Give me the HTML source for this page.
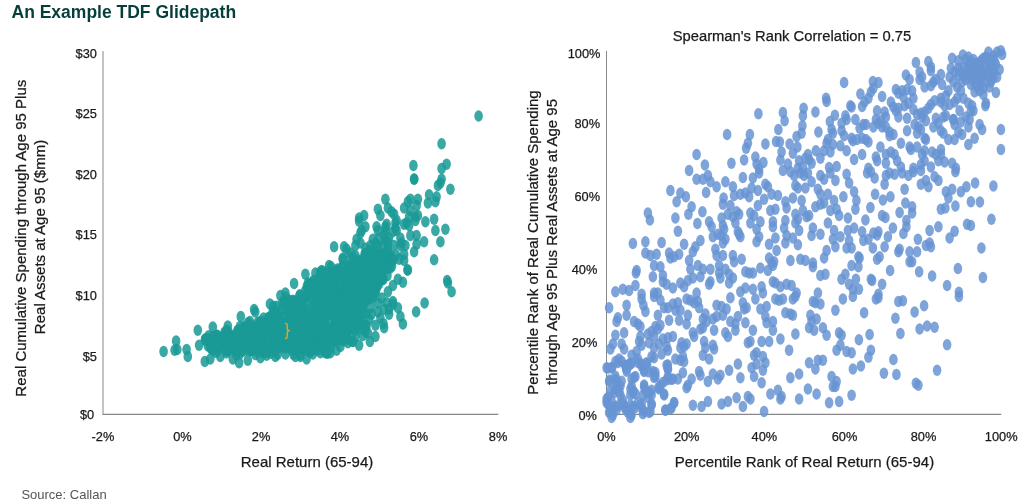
<!DOCTYPE html>
<html><head><meta charset="utf-8"><style>
html,body{margin:0;padding:0;background:#fff;}
body{width:1024px;height:504px;overflow:hidden;}
svg{display:block;font-family:"Liberation Sans",sans-serif;will-change:transform;}
.t{font-size:12.8px;fill:#1a1a1a;stroke:#1a1a1a;stroke-width:0.25px;}
.a{font-size:15px;fill:#1a1a1a;stroke:#1a1a1a;stroke-width:0.25px;}
</style></head><body>
<svg width="1024" height="504" viewBox="0 0 1024 504">
<rect width="1024" height="504" fill="#fff"/>
<text x="11.5" y="17.5" style="font-size:17.5px;font-weight:bold;fill:#053f3b">An Example TDF Glidepath</text>
<line x1="103" y1="51" x2="103" y2="414.5" stroke="#888" stroke-width="1"/>
<line x1="102.5" y1="414.3" x2="498.3" y2="414.3" stroke="#888" stroke-width="1.2"/>
<line x1="606.5" y1="51" x2="606.5" y2="414.5" stroke="#888" stroke-width="1"/>
<line x1="606" y1="414.3" x2="1001.2" y2="414.3" stroke="#888" stroke-width="1.2"/>
<text class="t" x="96.9" y="58.4" text-anchor="end">$30</text>
<text class="t" x="96.9" y="118.0" text-anchor="end">$25</text>
<text class="t" x="96.9" y="178.6" text-anchor="end">$20</text>
<text class="t" x="96.9" y="239.4" text-anchor="end">$15</text>
<text class="t" x="96.9" y="300.2" text-anchor="end">$10</text>
<text class="t" x="96.9" y="360.9" text-anchor="end">$5</text>
<text class="t" x="94.2" y="418.9" text-anchor="end">$0</text>
<text class="t" x="103" y="441.0" text-anchor="middle">-2%</text>
<text class="t" x="182.4" y="441.0" text-anchor="middle">0%</text>
<text class="t" x="261.1" y="441.0" text-anchor="middle">2%</text>
<text class="t" x="340" y="441.0" text-anchor="middle">4%</text>
<text class="t" x="419" y="441.0" text-anchor="middle">6%</text>
<text class="t" x="498.1" y="441.0" text-anchor="middle">8%</text>
<text class="a" x="307" y="466.7" text-anchor="middle">Real Return (65-94)</text>
<text class="a" transform="translate(26,238.2) rotate(-90)" text-anchor="middle">Real Cumulative Spending through Age 95 Plus</text>
<text class="a" transform="translate(44.5,237) rotate(-90)" text-anchor="middle">Real Assets at Age 95 ($mm)</text>
<text class="t" x="600.4" y="58.4" text-anchor="end">100%</text>
<text class="t" x="600.1" y="128.4" text-anchor="end">80%</text>
<text class="t" x="600.1" y="200.9" text-anchor="end">60%</text>
<text class="t" x="597.3" y="273.8" text-anchor="end">40%</text>
<text class="t" x="597.3" y="346.7" text-anchor="end">20%</text>
<text class="t" x="596.9" y="419.5" text-anchor="end">0%</text>
<text class="t" x="606.5" y="441.0" text-anchor="middle">0%</text>
<text class="t" x="686.7" y="441.0" text-anchor="middle">20%</text>
<text class="t" x="764.4" y="441.0" text-anchor="middle">40%</text>
<text class="t" x="844.5" y="441.0" text-anchor="middle">60%</text>
<text class="t" x="923.5" y="441.0" text-anchor="middle">80%</text>
<text class="t" x="1001.2" y="441.0" text-anchor="middle">100%</text>
<text class="a" x="804.5" y="466.7" text-anchor="middle">Percentile Rank of Real Return (65-94)</text>
<text class="a" x="792" y="41.3" text-anchor="middle" style="font-size:14.75px">Spearman's Rank Correlation = 0.75</text>
<text class="a" transform="translate(538.1,242.5) rotate(-90)" text-anchor="middle">Percentile Rank of Real Cumulative Spending</text>
<text class="a" transform="translate(557.1,242) rotate(-90)" text-anchor="middle">through Age 95 Plus Real Assets at Age 95</text>
<text x="21.4" y="498.9" style="font-size:13px;fill:#555">Source: Callan</text>
<g fill="#1a9a96" fill-opacity="0.86">
<ellipse cx="304.2" cy="322.6" rx="4.3" ry="5.7"/><ellipse cx="287.0" cy="328.7" rx="4.3" ry="5.7"/><ellipse cx="318.1" cy="282.3" rx="4.3" ry="5.7"/><ellipse cx="348.2" cy="296.0" rx="4.3" ry="5.7"/><ellipse cx="257.9" cy="322.2" rx="4.3" ry="5.7"/><ellipse cx="330.4" cy="274.0" rx="4.3" ry="5.7"/><ellipse cx="339.9" cy="278.9" rx="4.3" ry="5.7"/><ellipse cx="378.8" cy="273.3" rx="4.3" ry="5.7"/><ellipse cx="317.8" cy="316.0" rx="4.3" ry="5.7"/><ellipse cx="295.1" cy="309.4" rx="4.3" ry="5.7"/><ellipse cx="355.2" cy="290.1" rx="4.3" ry="5.7"/><ellipse cx="332.8" cy="329.7" rx="4.3" ry="5.7"/><ellipse cx="242.6" cy="337.5" rx="4.3" ry="5.7"/><ellipse cx="326.7" cy="272.4" rx="4.3" ry="5.7"/><ellipse cx="260.7" cy="341.2" rx="4.3" ry="5.7"/><ellipse cx="349.0" cy="269.6" rx="4.3" ry="5.7"/><ellipse cx="345.1" cy="277.6" rx="4.3" ry="5.7"/><ellipse cx="366.5" cy="279.0" rx="4.3" ry="5.7"/><ellipse cx="332.2" cy="291.6" rx="4.3" ry="5.7"/><ellipse cx="337.2" cy="325.2" rx="4.3" ry="5.7"/><ellipse cx="364.5" cy="266.6" rx="4.3" ry="5.7"/><ellipse cx="352.3" cy="315.7" rx="4.3" ry="5.7"/><ellipse cx="370.5" cy="252.2" rx="4.3" ry="5.7"/><ellipse cx="296.8" cy="301.7" rx="4.3" ry="5.7"/><ellipse cx="340.3" cy="329.2" rx="4.3" ry="5.7"/><ellipse cx="313.2" cy="323.7" rx="4.3" ry="5.7"/><ellipse cx="323.3" cy="278.0" rx="4.3" ry="5.7"/><ellipse cx="350.0" cy="283.6" rx="4.3" ry="5.7"/><ellipse cx="351.0" cy="315.5" rx="4.3" ry="5.7"/><ellipse cx="314.2" cy="289.2" rx="4.3" ry="5.7"/><ellipse cx="242.3" cy="331.8" rx="4.3" ry="5.7"/><ellipse cx="325.5" cy="296.9" rx="4.3" ry="5.7"/><ellipse cx="322.1" cy="324.2" rx="4.3" ry="5.7"/><ellipse cx="358.5" cy="321.5" rx="4.3" ry="5.7"/><ellipse cx="239.9" cy="353.9" rx="4.3" ry="5.7"/><ellipse cx="243.9" cy="326.7" rx="4.3" ry="5.7"/><ellipse cx="226.6" cy="345.2" rx="4.3" ry="5.7"/><ellipse cx="342.3" cy="292.1" rx="4.3" ry="5.7"/><ellipse cx="341.8" cy="332.5" rx="4.3" ry="5.7"/><ellipse cx="274.6" cy="313.3" rx="4.3" ry="5.7"/><ellipse cx="318.7" cy="278.4" rx="4.3" ry="5.7"/><ellipse cx="334.6" cy="317.0" rx="4.3" ry="5.7"/><ellipse cx="334.5" cy="271.8" rx="4.3" ry="5.7"/><ellipse cx="305.4" cy="350.3" rx="4.3" ry="5.7"/><ellipse cx="311.7" cy="288.1" rx="4.3" ry="5.7"/><ellipse cx="299.9" cy="294.7" rx="4.3" ry="5.7"/><ellipse cx="297.0" cy="323.6" rx="4.3" ry="5.7"/><ellipse cx="308.1" cy="282.9" rx="4.3" ry="5.7"/><ellipse cx="306.4" cy="332.4" rx="4.3" ry="5.7"/><ellipse cx="348.9" cy="300.2" rx="4.3" ry="5.7"/><ellipse cx="279.6" cy="326.1" rx="4.3" ry="5.7"/><ellipse cx="270.8" cy="330.2" rx="4.3" ry="5.7"/><ellipse cx="297.0" cy="327.2" rx="4.3" ry="5.7"/><ellipse cx="310.2" cy="297.4" rx="4.3" ry="5.7"/><ellipse cx="313.4" cy="342.0" rx="4.3" ry="5.7"/><ellipse cx="349.4" cy="297.1" rx="4.3" ry="5.7"/><ellipse cx="363.2" cy="299.2" rx="4.3" ry="5.7"/><ellipse cx="364.6" cy="283.7" rx="4.3" ry="5.7"/><ellipse cx="251.8" cy="350.6" rx="4.3" ry="5.7"/><ellipse cx="253.4" cy="338.8" rx="4.3" ry="5.7"/><ellipse cx="315.1" cy="303.4" rx="4.3" ry="5.7"/><ellipse cx="324.5" cy="350.6" rx="4.3" ry="5.7"/><ellipse cx="289.4" cy="309.5" rx="4.3" ry="5.7"/><ellipse cx="303.4" cy="344.6" rx="4.3" ry="5.7"/><ellipse cx="333.8" cy="309.1" rx="4.3" ry="5.7"/><ellipse cx="240.6" cy="348.2" rx="4.3" ry="5.7"/><ellipse cx="249.9" cy="350.7" rx="4.3" ry="5.7"/><ellipse cx="226.4" cy="352.9" rx="4.3" ry="5.7"/><ellipse cx="284.0" cy="343.3" rx="4.3" ry="5.7"/><ellipse cx="334.3" cy="327.2" rx="4.3" ry="5.7"/><ellipse cx="229.9" cy="336.4" rx="4.3" ry="5.7"/><ellipse cx="308.3" cy="336.4" rx="4.3" ry="5.7"/><ellipse cx="318.4" cy="309.3" rx="4.3" ry="5.7"/><ellipse cx="308.5" cy="325.4" rx="4.3" ry="5.7"/><ellipse cx="284.1" cy="342.7" rx="4.3" ry="5.7"/><ellipse cx="341.4" cy="289.7" rx="4.3" ry="5.7"/><ellipse cx="353.6" cy="264.2" rx="4.3" ry="5.7"/><ellipse cx="357.3" cy="272.7" rx="4.3" ry="5.7"/><ellipse cx="304.1" cy="342.8" rx="4.3" ry="5.7"/><ellipse cx="233.2" cy="336.7" rx="4.3" ry="5.7"/><ellipse cx="313.8" cy="337.7" rx="4.3" ry="5.7"/><ellipse cx="354.4" cy="280.7" rx="4.3" ry="5.7"/><ellipse cx="337.9" cy="270.2" rx="4.3" ry="5.7"/><ellipse cx="333.4" cy="297.7" rx="4.3" ry="5.7"/><ellipse cx="337.4" cy="271.4" rx="4.3" ry="5.7"/><ellipse cx="310.2" cy="325.5" rx="4.3" ry="5.7"/><ellipse cx="313.3" cy="325.4" rx="4.3" ry="5.7"/><ellipse cx="323.7" cy="342.8" rx="4.3" ry="5.7"/><ellipse cx="357.7" cy="264.8" rx="4.3" ry="5.7"/><ellipse cx="329.4" cy="302.3" rx="4.3" ry="5.7"/><ellipse cx="279.1" cy="333.0" rx="4.3" ry="5.7"/><ellipse cx="344.4" cy="330.0" rx="4.3" ry="5.7"/><ellipse cx="375.7" cy="264.7" rx="4.3" ry="5.7"/><ellipse cx="379.3" cy="274.9" rx="4.3" ry="5.7"/><ellipse cx="277.4" cy="311.5" rx="4.3" ry="5.7"/><ellipse cx="287.8" cy="332.2" rx="4.3" ry="5.7"/><ellipse cx="288.1" cy="329.5" rx="4.3" ry="5.7"/><ellipse cx="313.3" cy="341.2" rx="4.3" ry="5.7"/><ellipse cx="377.8" cy="281.9" rx="4.3" ry="5.7"/><ellipse cx="324.0" cy="344.7" rx="4.3" ry="5.7"/><ellipse cx="380.8" cy="256.0" rx="4.3" ry="5.7"/><ellipse cx="228.2" cy="346.0" rx="4.3" ry="5.7"/><ellipse cx="325.7" cy="311.5" rx="4.3" ry="5.7"/><ellipse cx="348.2" cy="325.0" rx="4.3" ry="5.7"/><ellipse cx="328.4" cy="343.5" rx="4.3" ry="5.7"/><ellipse cx="334.5" cy="273.1" rx="4.3" ry="5.7"/><ellipse cx="271.6" cy="333.5" rx="4.3" ry="5.7"/><ellipse cx="331.1" cy="308.2" rx="4.3" ry="5.7"/><ellipse cx="340.1" cy="312.1" rx="4.3" ry="5.7"/><ellipse cx="287.8" cy="322.0" rx="4.3" ry="5.7"/><ellipse cx="320.8" cy="336.4" rx="4.3" ry="5.7"/><ellipse cx="364.6" cy="260.4" rx="4.3" ry="5.7"/><ellipse cx="293.7" cy="301.6" rx="4.3" ry="5.7"/><ellipse cx="361.0" cy="297.1" rx="4.3" ry="5.7"/><ellipse cx="322.7" cy="341.5" rx="4.3" ry="5.7"/><ellipse cx="385.7" cy="259.5" rx="4.3" ry="5.7"/><ellipse cx="382.2" cy="276.9" rx="4.3" ry="5.7"/><ellipse cx="333.4" cy="308.9" rx="4.3" ry="5.7"/><ellipse cx="266.4" cy="342.4" rx="4.3" ry="5.7"/><ellipse cx="228.4" cy="331.8" rx="4.3" ry="5.7"/><ellipse cx="304.9" cy="334.3" rx="4.3" ry="5.7"/><ellipse cx="302.8" cy="299.8" rx="4.3" ry="5.7"/><ellipse cx="366.4" cy="297.4" rx="4.3" ry="5.7"/><ellipse cx="350.0" cy="302.5" rx="4.3" ry="5.7"/><ellipse cx="374.0" cy="277.5" rx="4.3" ry="5.7"/><ellipse cx="299.5" cy="308.7" rx="4.3" ry="5.7"/><ellipse cx="356.1" cy="281.6" rx="4.3" ry="5.7"/><ellipse cx="347.4" cy="332.2" rx="4.3" ry="5.7"/><ellipse cx="309.9" cy="352.4" rx="4.3" ry="5.7"/><ellipse cx="247.0" cy="327.7" rx="4.3" ry="5.7"/><ellipse cx="338.8" cy="270.9" rx="4.3" ry="5.7"/><ellipse cx="247.4" cy="343.2" rx="4.3" ry="5.7"/><ellipse cx="280.8" cy="327.9" rx="4.3" ry="5.7"/><ellipse cx="267.6" cy="327.6" rx="4.3" ry="5.7"/><ellipse cx="346.0" cy="272.3" rx="4.3" ry="5.7"/><ellipse cx="290.4" cy="321.8" rx="4.3" ry="5.7"/><ellipse cx="336.2" cy="341.4" rx="4.3" ry="5.7"/><ellipse cx="361.8" cy="321.1" rx="4.3" ry="5.7"/><ellipse cx="281.2" cy="326.7" rx="4.3" ry="5.7"/><ellipse cx="330.9" cy="308.4" rx="4.3" ry="5.7"/><ellipse cx="210.9" cy="341.6" rx="4.3" ry="5.7"/><ellipse cx="250.0" cy="331.7" rx="4.3" ry="5.7"/><ellipse cx="319.2" cy="284.2" rx="4.3" ry="5.7"/><ellipse cx="340.8" cy="334.1" rx="4.3" ry="5.7"/><ellipse cx="321.7" cy="335.8" rx="4.3" ry="5.7"/><ellipse cx="361.1" cy="274.5" rx="4.3" ry="5.7"/><ellipse cx="352.4" cy="341.2" rx="4.3" ry="5.7"/><ellipse cx="300.0" cy="354.8" rx="4.3" ry="5.7"/><ellipse cx="285.9" cy="297.2" rx="4.3" ry="5.7"/><ellipse cx="327.4" cy="334.1" rx="4.3" ry="5.7"/><ellipse cx="352.7" cy="290.9" rx="4.3" ry="5.7"/><ellipse cx="392.0" cy="260.7" rx="4.3" ry="5.7"/><ellipse cx="294.8" cy="321.7" rx="4.3" ry="5.7"/><ellipse cx="255.5" cy="354.6" rx="4.3" ry="5.7"/><ellipse cx="318.3" cy="346.7" rx="4.3" ry="5.7"/><ellipse cx="307.7" cy="295.3" rx="4.3" ry="5.7"/><ellipse cx="381.3" cy="253.7" rx="4.3" ry="5.7"/><ellipse cx="377.2" cy="287.1" rx="4.3" ry="5.7"/><ellipse cx="344.7" cy="293.8" rx="4.3" ry="5.7"/><ellipse cx="225.0" cy="336.6" rx="4.3" ry="5.7"/><ellipse cx="359.2" cy="266.1" rx="4.3" ry="5.7"/><ellipse cx="357.0" cy="281.0" rx="4.3" ry="5.7"/><ellipse cx="358.1" cy="287.9" rx="4.3" ry="5.7"/><ellipse cx="334.4" cy="323.4" rx="4.3" ry="5.7"/><ellipse cx="306.9" cy="286.0" rx="4.3" ry="5.7"/><ellipse cx="396.0" cy="255.1" rx="4.3" ry="5.7"/><ellipse cx="319.9" cy="291.4" rx="4.3" ry="5.7"/><ellipse cx="326.4" cy="302.5" rx="4.3" ry="5.7"/><ellipse cx="343.5" cy="340.8" rx="4.3" ry="5.7"/><ellipse cx="280.5" cy="334.2" rx="4.3" ry="5.7"/><ellipse cx="379.2" cy="283.8" rx="4.3" ry="5.7"/><ellipse cx="232.3" cy="343.0" rx="4.3" ry="5.7"/><ellipse cx="336.3" cy="320.8" rx="4.3" ry="5.7"/><ellipse cx="329.7" cy="328.8" rx="4.3" ry="5.7"/><ellipse cx="356.9" cy="270.5" rx="4.3" ry="5.7"/><ellipse cx="291.1" cy="349.0" rx="4.3" ry="5.7"/><ellipse cx="237.5" cy="330.2" rx="4.3" ry="5.7"/><ellipse cx="372.1" cy="255.7" rx="4.3" ry="5.7"/><ellipse cx="285.0" cy="323.8" rx="4.3" ry="5.7"/><ellipse cx="348.9" cy="301.2" rx="4.3" ry="5.7"/><ellipse cx="341.1" cy="328.5" rx="4.3" ry="5.7"/><ellipse cx="277.7" cy="317.7" rx="4.3" ry="5.7"/><ellipse cx="302.1" cy="326.4" rx="4.3" ry="5.7"/><ellipse cx="280.1" cy="341.2" rx="4.3" ry="5.7"/><ellipse cx="315.4" cy="327.9" rx="4.3" ry="5.7"/><ellipse cx="319.5" cy="343.2" rx="4.3" ry="5.7"/><ellipse cx="316.3" cy="296.2" rx="4.3" ry="5.7"/><ellipse cx="276.9" cy="306.3" rx="4.3" ry="5.7"/><ellipse cx="361.2" cy="288.6" rx="4.3" ry="5.7"/><ellipse cx="336.6" cy="288.0" rx="4.3" ry="5.7"/><ellipse cx="314.2" cy="339.1" rx="4.3" ry="5.7"/><ellipse cx="362.8" cy="270.9" rx="4.3" ry="5.7"/><ellipse cx="323.2" cy="324.4" rx="4.3" ry="5.7"/><ellipse cx="357.6" cy="316.3" rx="4.3" ry="5.7"/><ellipse cx="358.4" cy="281.7" rx="4.3" ry="5.7"/><ellipse cx="227.6" cy="348.9" rx="4.3" ry="5.7"/><ellipse cx="301.2" cy="333.0" rx="4.3" ry="5.7"/><ellipse cx="342.7" cy="259.4" rx="4.3" ry="5.7"/><ellipse cx="318.6" cy="323.7" rx="4.3" ry="5.7"/><ellipse cx="341.9" cy="272.1" rx="4.3" ry="5.7"/><ellipse cx="311.4" cy="283.1" rx="4.3" ry="5.7"/><ellipse cx="340.8" cy="294.3" rx="4.3" ry="5.7"/><ellipse cx="330.4" cy="330.3" rx="4.3" ry="5.7"/><ellipse cx="300.6" cy="328.4" rx="4.3" ry="5.7"/><ellipse cx="253.7" cy="330.8" rx="4.3" ry="5.7"/><ellipse cx="375.6" cy="292.4" rx="4.3" ry="5.7"/><ellipse cx="276.1" cy="314.4" rx="4.3" ry="5.7"/><ellipse cx="359.9" cy="329.1" rx="4.3" ry="5.7"/><ellipse cx="305.9" cy="322.1" rx="4.3" ry="5.7"/><ellipse cx="344.7" cy="314.8" rx="4.3" ry="5.7"/><ellipse cx="321.0" cy="310.7" rx="4.3" ry="5.7"/><ellipse cx="334.5" cy="330.1" rx="4.3" ry="5.7"/><ellipse cx="388.6" cy="255.2" rx="4.3" ry="5.7"/><ellipse cx="278.9" cy="336.7" rx="4.3" ry="5.7"/><ellipse cx="278.9" cy="345.9" rx="4.3" ry="5.7"/><ellipse cx="280.9" cy="347.1" rx="4.3" ry="5.7"/><ellipse cx="341.8" cy="308.7" rx="4.3" ry="5.7"/><ellipse cx="358.1" cy="284.6" rx="4.3" ry="5.7"/><ellipse cx="224.4" cy="339.2" rx="4.3" ry="5.7"/><ellipse cx="375.0" cy="254.7" rx="4.3" ry="5.7"/><ellipse cx="270.9" cy="353.3" rx="4.3" ry="5.7"/><ellipse cx="304.3" cy="334.5" rx="4.3" ry="5.7"/><ellipse cx="230.6" cy="342.1" rx="4.3" ry="5.7"/><ellipse cx="237.2" cy="349.1" rx="4.3" ry="5.7"/><ellipse cx="251.7" cy="327.6" rx="4.3" ry="5.7"/><ellipse cx="361.6" cy="264.0" rx="4.3" ry="5.7"/><ellipse cx="253.5" cy="347.7" rx="4.3" ry="5.7"/><ellipse cx="227.5" cy="332.4" rx="4.3" ry="5.7"/><ellipse cx="297.0" cy="307.7" rx="4.3" ry="5.7"/><ellipse cx="358.4" cy="324.8" rx="4.3" ry="5.7"/><ellipse cx="304.2" cy="298.8" rx="4.3" ry="5.7"/><ellipse cx="347.4" cy="330.5" rx="4.3" ry="5.7"/><ellipse cx="329.5" cy="339.9" rx="4.3" ry="5.7"/><ellipse cx="350.0" cy="267.2" rx="4.3" ry="5.7"/><ellipse cx="357.4" cy="295.4" rx="4.3" ry="5.7"/><ellipse cx="328.7" cy="294.6" rx="4.3" ry="5.7"/><ellipse cx="295.8" cy="337.0" rx="4.3" ry="5.7"/><ellipse cx="371.1" cy="271.9" rx="4.3" ry="5.7"/><ellipse cx="364.9" cy="253.5" rx="4.3" ry="5.7"/><ellipse cx="318.1" cy="298.2" rx="4.3" ry="5.7"/><ellipse cx="329.9" cy="297.9" rx="4.3" ry="5.7"/><ellipse cx="288.7" cy="347.5" rx="4.3" ry="5.7"/><ellipse cx="330.1" cy="320.1" rx="4.3" ry="5.7"/><ellipse cx="222.5" cy="342.3" rx="4.3" ry="5.7"/><ellipse cx="375.6" cy="290.9" rx="4.3" ry="5.7"/><ellipse cx="367.3" cy="273.3" rx="4.3" ry="5.7"/><ellipse cx="321.7" cy="338.2" rx="4.3" ry="5.7"/><ellipse cx="376.6" cy="257.7" rx="4.3" ry="5.7"/><ellipse cx="349.8" cy="276.3" rx="4.3" ry="5.7"/><ellipse cx="230.6" cy="344.9" rx="4.3" ry="5.7"/><ellipse cx="342.8" cy="308.7" rx="4.3" ry="5.7"/><ellipse cx="306.9" cy="328.5" rx="4.3" ry="5.7"/><ellipse cx="331.4" cy="279.4" rx="4.3" ry="5.7"/><ellipse cx="300.7" cy="339.7" rx="4.3" ry="5.7"/><ellipse cx="284.2" cy="334.9" rx="4.3" ry="5.7"/><ellipse cx="213.9" cy="336.7" rx="4.3" ry="5.7"/><ellipse cx="346.0" cy="301.6" rx="4.3" ry="5.7"/><ellipse cx="225.5" cy="342.1" rx="4.3" ry="5.7"/><ellipse cx="331.4" cy="340.2" rx="4.3" ry="5.7"/><ellipse cx="365.7" cy="325.5" rx="4.3" ry="5.7"/><ellipse cx="370.4" cy="257.9" rx="4.3" ry="5.7"/><ellipse cx="294.3" cy="303.9" rx="4.3" ry="5.7"/><ellipse cx="294.8" cy="324.0" rx="4.3" ry="5.7"/><ellipse cx="233.9" cy="349.6" rx="4.3" ry="5.7"/><ellipse cx="296.4" cy="346.7" rx="4.3" ry="5.7"/><ellipse cx="286.6" cy="331.0" rx="4.3" ry="5.7"/><ellipse cx="334.1" cy="307.5" rx="4.3" ry="5.7"/><ellipse cx="358.3" cy="308.5" rx="4.3" ry="5.7"/><ellipse cx="244.2" cy="327.8" rx="4.3" ry="5.7"/><ellipse cx="298.3" cy="302.8" rx="4.3" ry="5.7"/><ellipse cx="258.5" cy="335.1" rx="4.3" ry="5.7"/><ellipse cx="349.8" cy="259.7" rx="4.3" ry="5.7"/><ellipse cx="337.4" cy="302.6" rx="4.3" ry="5.7"/><ellipse cx="275.6" cy="347.6" rx="4.3" ry="5.7"/><ellipse cx="334.4" cy="301.8" rx="4.3" ry="5.7"/><ellipse cx="302.6" cy="297.3" rx="4.3" ry="5.7"/><ellipse cx="228.5" cy="341.2" rx="4.3" ry="5.7"/><ellipse cx="320.2" cy="303.3" rx="4.3" ry="5.7"/><ellipse cx="231.1" cy="345.6" rx="4.3" ry="5.7"/><ellipse cx="366.2" cy="313.6" rx="4.3" ry="5.7"/><ellipse cx="288.2" cy="330.4" rx="4.3" ry="5.7"/><ellipse cx="237.6" cy="332.3" rx="4.3" ry="5.7"/><ellipse cx="208.6" cy="335.8" rx="4.3" ry="5.7"/><ellipse cx="348.2" cy="339.3" rx="4.3" ry="5.7"/><ellipse cx="303.2" cy="333.6" rx="4.3" ry="5.7"/><ellipse cx="237.4" cy="334.6" rx="4.3" ry="5.7"/><ellipse cx="302.5" cy="298.2" rx="4.3" ry="5.7"/><ellipse cx="302.4" cy="311.4" rx="4.3" ry="5.7"/><ellipse cx="267.2" cy="352.2" rx="4.3" ry="5.7"/><ellipse cx="262.1" cy="327.8" rx="4.3" ry="5.7"/><ellipse cx="301.3" cy="341.0" rx="4.3" ry="5.7"/><ellipse cx="283.9" cy="336.4" rx="4.3" ry="5.7"/><ellipse cx="305.6" cy="314.4" rx="4.3" ry="5.7"/><ellipse cx="207.9" cy="346.0" rx="4.3" ry="5.7"/><ellipse cx="300.0" cy="319.7" rx="4.3" ry="5.7"/><ellipse cx="321.4" cy="275.3" rx="4.3" ry="5.7"/><ellipse cx="328.1" cy="340.0" rx="4.3" ry="5.7"/><ellipse cx="321.3" cy="330.1" rx="4.3" ry="5.7"/><ellipse cx="329.5" cy="301.7" rx="4.3" ry="5.7"/><ellipse cx="284.0" cy="300.5" rx="4.3" ry="5.7"/><ellipse cx="330.2" cy="304.7" rx="4.3" ry="5.7"/><ellipse cx="320.7" cy="341.0" rx="4.3" ry="5.7"/><ellipse cx="333.2" cy="337.9" rx="4.3" ry="5.7"/><ellipse cx="344.6" cy="334.7" rx="4.3" ry="5.7"/><ellipse cx="227.6" cy="337.5" rx="4.3" ry="5.7"/><ellipse cx="255.2" cy="327.7" rx="4.3" ry="5.7"/><ellipse cx="323.2" cy="276.1" rx="4.3" ry="5.7"/><ellipse cx="374.4" cy="274.0" rx="4.3" ry="5.7"/><ellipse cx="329.6" cy="278.6" rx="4.3" ry="5.7"/><ellipse cx="327.9" cy="330.7" rx="4.3" ry="5.7"/><ellipse cx="345.2" cy="322.9" rx="4.3" ry="5.7"/><ellipse cx="317.6" cy="340.2" rx="4.3" ry="5.7"/><ellipse cx="332.3" cy="331.0" rx="4.3" ry="5.7"/><ellipse cx="330.0" cy="306.6" rx="4.3" ry="5.7"/><ellipse cx="278.0" cy="338.9" rx="4.3" ry="5.7"/><ellipse cx="273.1" cy="317.9" rx="4.3" ry="5.7"/><ellipse cx="354.1" cy="287.5" rx="4.3" ry="5.7"/><ellipse cx="293.4" cy="300.1" rx="4.3" ry="5.7"/><ellipse cx="265.1" cy="346.4" rx="4.3" ry="5.7"/><ellipse cx="334.4" cy="300.4" rx="4.3" ry="5.7"/><ellipse cx="359.4" cy="314.2" rx="4.3" ry="5.7"/><ellipse cx="359.9" cy="301.3" rx="4.3" ry="5.7"/><ellipse cx="234.0" cy="335.2" rx="4.3" ry="5.7"/><ellipse cx="326.8" cy="315.4" rx="4.3" ry="5.7"/><ellipse cx="374.9" cy="280.0" rx="4.3" ry="5.7"/><ellipse cx="216.9" cy="335.1" rx="4.3" ry="5.7"/><ellipse cx="387.2" cy="250.7" rx="4.3" ry="5.7"/><ellipse cx="375.7" cy="276.5" rx="4.3" ry="5.7"/><ellipse cx="342.8" cy="332.0" rx="4.3" ry="5.7"/><ellipse cx="348.7" cy="280.8" rx="4.3" ry="5.7"/><ellipse cx="359.6" cy="289.3" rx="4.3" ry="5.7"/><ellipse cx="292.2" cy="344.2" rx="4.3" ry="5.7"/><ellipse cx="330.3" cy="339.7" rx="4.3" ry="5.7"/><ellipse cx="239.3" cy="329.9" rx="4.3" ry="5.7"/><ellipse cx="325.3" cy="302.2" rx="4.3" ry="5.7"/><ellipse cx="352.9" cy="256.9" rx="4.3" ry="5.7"/><ellipse cx="316.3" cy="342.5" rx="4.3" ry="5.7"/><ellipse cx="331.0" cy="308.8" rx="4.3" ry="5.7"/><ellipse cx="317.9" cy="335.8" rx="4.3" ry="5.7"/><ellipse cx="260.6" cy="323.1" rx="4.3" ry="5.7"/><ellipse cx="345.7" cy="294.4" rx="4.3" ry="5.7"/><ellipse cx="215.6" cy="338.6" rx="4.3" ry="5.7"/><ellipse cx="299.9" cy="335.3" rx="4.3" ry="5.7"/><ellipse cx="277.2" cy="329.8" rx="4.3" ry="5.7"/><ellipse cx="306.8" cy="341.8" rx="4.3" ry="5.7"/><ellipse cx="342.1" cy="275.4" rx="4.3" ry="5.7"/><ellipse cx="351.0" cy="291.6" rx="4.3" ry="5.7"/><ellipse cx="303.0" cy="323.9" rx="4.3" ry="5.7"/><ellipse cx="330.3" cy="313.0" rx="4.3" ry="5.7"/><ellipse cx="328.7" cy="309.3" rx="4.3" ry="5.7"/><ellipse cx="331.0" cy="266.8" rx="4.3" ry="5.7"/><ellipse cx="289.4" cy="300.2" rx="4.3" ry="5.7"/><ellipse cx="314.0" cy="349.3" rx="4.3" ry="5.7"/><ellipse cx="206.2" cy="338.4" rx="4.3" ry="5.7"/><ellipse cx="348.2" cy="306.2" rx="4.3" ry="5.7"/><ellipse cx="284.4" cy="331.4" rx="4.3" ry="5.7"/><ellipse cx="365.8" cy="278.4" rx="4.3" ry="5.7"/><ellipse cx="314.6" cy="290.6" rx="4.3" ry="5.7"/><ellipse cx="336.0" cy="302.0" rx="4.3" ry="5.7"/><ellipse cx="242.4" cy="341.3" rx="4.3" ry="5.7"/><ellipse cx="376.8" cy="262.6" rx="4.3" ry="5.7"/><ellipse cx="283.6" cy="346.4" rx="4.3" ry="5.7"/><ellipse cx="313.3" cy="287.1" rx="4.3" ry="5.7"/><ellipse cx="252.2" cy="338.9" rx="4.3" ry="5.7"/><ellipse cx="386.2" cy="268.3" rx="4.3" ry="5.7"/><ellipse cx="339.1" cy="328.9" rx="4.3" ry="5.7"/><ellipse cx="274.9" cy="327.1" rx="4.3" ry="5.7"/><ellipse cx="335.1" cy="290.4" rx="4.3" ry="5.7"/><ellipse cx="390.3" cy="255.2" rx="4.3" ry="5.7"/><ellipse cx="370.1" cy="255.9" rx="4.3" ry="5.7"/><ellipse cx="290.4" cy="326.1" rx="4.3" ry="5.7"/><ellipse cx="270.5" cy="320.5" rx="4.3" ry="5.7"/><ellipse cx="228.6" cy="338.7" rx="4.3" ry="5.7"/><ellipse cx="261.2" cy="329.8" rx="4.3" ry="5.7"/><ellipse cx="292.8" cy="315.2" rx="4.3" ry="5.7"/><ellipse cx="367.2" cy="289.6" rx="4.3" ry="5.7"/><ellipse cx="349.2" cy="266.7" rx="4.3" ry="5.7"/><ellipse cx="244.6" cy="328.9" rx="4.3" ry="5.7"/><ellipse cx="313.6" cy="284.4" rx="4.3" ry="5.7"/><ellipse cx="374.3" cy="269.5" rx="4.3" ry="5.7"/><ellipse cx="314.1" cy="334.7" rx="4.3" ry="5.7"/><ellipse cx="361.2" cy="283.3" rx="4.3" ry="5.7"/><ellipse cx="232.2" cy="338.8" rx="4.3" ry="5.7"/><ellipse cx="373.2" cy="271.9" rx="4.3" ry="5.7"/><ellipse cx="330.2" cy="310.7" rx="4.3" ry="5.7"/><ellipse cx="215.7" cy="352.4" rx="4.3" ry="5.7"/><ellipse cx="298.9" cy="330.5" rx="4.3" ry="5.7"/><ellipse cx="226.7" cy="330.3" rx="4.3" ry="5.7"/><ellipse cx="335.2" cy="280.7" rx="4.3" ry="5.7"/><ellipse cx="387.4" cy="275.6" rx="4.3" ry="5.7"/><ellipse cx="298.3" cy="350.3" rx="4.3" ry="5.7"/><ellipse cx="351.5" cy="328.2" rx="4.3" ry="5.7"/><ellipse cx="226.3" cy="350.6" rx="4.3" ry="5.7"/><ellipse cx="337.5" cy="268.9" rx="4.3" ry="5.7"/><ellipse cx="342.2" cy="340.4" rx="4.3" ry="5.7"/><ellipse cx="283.0" cy="347.2" rx="4.3" ry="5.7"/><ellipse cx="351.4" cy="300.9" rx="4.3" ry="5.7"/><ellipse cx="307.7" cy="316.4" rx="4.3" ry="5.7"/><ellipse cx="356.4" cy="281.7" rx="4.3" ry="5.7"/><ellipse cx="297.0" cy="325.3" rx="4.3" ry="5.7"/><ellipse cx="331.7" cy="312.8" rx="4.3" ry="5.7"/><ellipse cx="278.1" cy="339.1" rx="4.3" ry="5.7"/><ellipse cx="325.7" cy="278.6" rx="4.3" ry="5.7"/><ellipse cx="335.4" cy="338.0" rx="4.3" ry="5.7"/><ellipse cx="352.0" cy="284.5" rx="4.3" ry="5.7"/><ellipse cx="318.2" cy="292.7" rx="4.3" ry="5.7"/><ellipse cx="287.4" cy="315.1" rx="4.3" ry="5.7"/><ellipse cx="263.6" cy="318.0" rx="4.3" ry="5.7"/><ellipse cx="306.9" cy="350.0" rx="4.3" ry="5.7"/><ellipse cx="311.3" cy="330.6" rx="4.3" ry="5.7"/><ellipse cx="244.6" cy="335.4" rx="4.3" ry="5.7"/><ellipse cx="376.9" cy="256.0" rx="4.3" ry="5.7"/><ellipse cx="353.9" cy="265.7" rx="4.3" ry="5.7"/><ellipse cx="314.5" cy="281.8" rx="4.3" ry="5.7"/><ellipse cx="268.5" cy="317.5" rx="4.3" ry="5.7"/><ellipse cx="347.4" cy="333.5" rx="4.3" ry="5.7"/><ellipse cx="238.6" cy="333.8" rx="4.3" ry="5.7"/><ellipse cx="322.2" cy="299.1" rx="4.3" ry="5.7"/><ellipse cx="307.4" cy="295.9" rx="4.3" ry="5.7"/><ellipse cx="308.9" cy="339.4" rx="4.3" ry="5.7"/><ellipse cx="338.5" cy="305.3" rx="4.3" ry="5.7"/><ellipse cx="384.9" cy="258.4" rx="4.3" ry="5.7"/><ellipse cx="292.5" cy="307.4" rx="4.3" ry="5.7"/><ellipse cx="240.1" cy="326.4" rx="4.3" ry="5.7"/><ellipse cx="293.8" cy="339.5" rx="4.3" ry="5.7"/><ellipse cx="348.8" cy="316.3" rx="4.3" ry="5.7"/><ellipse cx="321.1" cy="283.3" rx="4.3" ry="5.7"/><ellipse cx="283.7" cy="344.5" rx="4.3" ry="5.7"/><ellipse cx="368.8" cy="258.6" rx="4.3" ry="5.7"/><ellipse cx="275.6" cy="330.5" rx="4.3" ry="5.7"/><ellipse cx="339.2" cy="317.2" rx="4.3" ry="5.7"/><ellipse cx="359.2" cy="267.9" rx="4.3" ry="5.7"/><ellipse cx="263.6" cy="331.9" rx="4.3" ry="5.7"/><ellipse cx="319.9" cy="319.1" rx="4.3" ry="5.7"/><ellipse cx="250.2" cy="328.4" rx="4.3" ry="5.7"/><ellipse cx="302.1" cy="321.2" rx="4.3" ry="5.7"/><ellipse cx="324.7" cy="301.8" rx="4.3" ry="5.7"/><ellipse cx="237.2" cy="351.1" rx="4.3" ry="5.7"/><ellipse cx="307.6" cy="293.6" rx="4.3" ry="5.7"/><ellipse cx="263.9" cy="345.7" rx="4.3" ry="5.7"/><ellipse cx="358.5" cy="260.5" rx="4.3" ry="5.7"/><ellipse cx="319.0" cy="278.1" rx="4.3" ry="5.7"/><ellipse cx="337.4" cy="326.1" rx="4.3" ry="5.7"/><ellipse cx="319.5" cy="289.5" rx="4.3" ry="5.7"/><ellipse cx="325.0" cy="315.8" rx="4.3" ry="5.7"/><ellipse cx="344.1" cy="293.6" rx="4.3" ry="5.7"/><ellipse cx="289.9" cy="303.3" rx="4.3" ry="5.7"/><ellipse cx="380.6" cy="280.0" rx="4.3" ry="5.7"/><ellipse cx="388.7" cy="265.1" rx="4.3" ry="5.7"/><ellipse cx="381.3" cy="263.1" rx="4.3" ry="5.7"/><ellipse cx="297.8" cy="312.1" rx="4.3" ry="5.7"/><ellipse cx="288.6" cy="345.8" rx="4.3" ry="5.7"/><ellipse cx="345.7" cy="276.2" rx="4.3" ry="5.7"/><ellipse cx="323.1" cy="299.5" rx="4.3" ry="5.7"/><ellipse cx="338.5" cy="316.9" rx="4.3" ry="5.7"/><ellipse cx="251.2" cy="334.5" rx="4.3" ry="5.7"/><ellipse cx="315.9" cy="344.3" rx="4.3" ry="5.7"/><ellipse cx="379.7" cy="259.1" rx="4.3" ry="5.7"/><ellipse cx="312.9" cy="326.3" rx="4.3" ry="5.7"/><ellipse cx="309.8" cy="286.0" rx="4.3" ry="5.7"/><ellipse cx="318.5" cy="345.1" rx="4.3" ry="5.7"/><ellipse cx="292.3" cy="319.6" rx="4.3" ry="5.7"/><ellipse cx="330.5" cy="337.2" rx="4.3" ry="5.7"/><ellipse cx="351.6" cy="299.9" rx="4.3" ry="5.7"/><ellipse cx="320.5" cy="341.8" rx="4.3" ry="5.7"/><ellipse cx="368.1" cy="277.1" rx="4.3" ry="5.7"/><ellipse cx="337.3" cy="332.2" rx="4.3" ry="5.7"/><ellipse cx="272.6" cy="348.1" rx="4.3" ry="5.7"/><ellipse cx="315.6" cy="283.1" rx="4.3" ry="5.7"/><ellipse cx="291.9" cy="318.2" rx="4.3" ry="5.7"/><ellipse cx="262.2" cy="328.4" rx="4.3" ry="5.7"/><ellipse cx="358.5" cy="322.4" rx="4.3" ry="5.7"/><ellipse cx="225.7" cy="333.4" rx="4.3" ry="5.7"/><ellipse cx="242.8" cy="339.6" rx="4.3" ry="5.7"/><ellipse cx="298.0" cy="301.0" rx="4.3" ry="5.7"/><ellipse cx="309.1" cy="317.2" rx="4.3" ry="5.7"/><ellipse cx="291.3" cy="303.5" rx="4.3" ry="5.7"/><ellipse cx="353.2" cy="308.9" rx="4.3" ry="5.7"/><ellipse cx="306.2" cy="342.7" rx="4.3" ry="5.7"/><ellipse cx="305.6" cy="347.0" rx="4.3" ry="5.7"/><ellipse cx="264.8" cy="336.3" rx="4.3" ry="5.7"/><ellipse cx="268.1" cy="319.7" rx="4.3" ry="5.7"/><ellipse cx="355.2" cy="290.0" rx="4.3" ry="5.7"/><ellipse cx="297.9" cy="316.9" rx="4.3" ry="5.7"/><ellipse cx="276.6" cy="321.8" rx="4.3" ry="5.7"/><ellipse cx="389.3" cy="254.7" rx="4.3" ry="5.7"/><ellipse cx="227.2" cy="340.5" rx="4.3" ry="5.7"/><ellipse cx="353.3" cy="287.8" rx="4.3" ry="5.7"/><ellipse cx="353.9" cy="328.2" rx="4.3" ry="5.7"/><ellipse cx="304.9" cy="343.8" rx="4.3" ry="5.7"/><ellipse cx="315.4" cy="325.7" rx="4.3" ry="5.7"/><ellipse cx="389.4" cy="259.1" rx="4.3" ry="5.7"/><ellipse cx="231.1" cy="342.0" rx="4.3" ry="5.7"/><ellipse cx="341.3" cy="310.1" rx="4.3" ry="5.7"/><ellipse cx="357.6" cy="279.4" rx="4.3" ry="5.7"/><ellipse cx="329.6" cy="298.8" rx="4.3" ry="5.7"/><ellipse cx="237.8" cy="337.3" rx="4.3" ry="5.7"/><ellipse cx="218.2" cy="343.4" rx="4.3" ry="5.7"/><ellipse cx="336.8" cy="327.0" rx="4.3" ry="5.7"/><ellipse cx="308.6" cy="338.7" rx="4.3" ry="5.7"/><ellipse cx="354.8" cy="330.8" rx="4.3" ry="5.7"/><ellipse cx="356.9" cy="262.1" rx="4.3" ry="5.7"/><ellipse cx="358.4" cy="310.8" rx="4.3" ry="5.7"/><ellipse cx="363.3" cy="304.7" rx="4.3" ry="5.7"/><ellipse cx="343.3" cy="320.4" rx="4.3" ry="5.7"/><ellipse cx="312.5" cy="314.1" rx="4.3" ry="5.7"/><ellipse cx="286.9" cy="346.4" rx="4.3" ry="5.7"/><ellipse cx="344.9" cy="275.3" rx="4.3" ry="5.7"/><ellipse cx="383.2" cy="279.5" rx="4.3" ry="5.7"/><ellipse cx="262.2" cy="335.2" rx="4.3" ry="5.7"/><ellipse cx="310.0" cy="283.6" rx="4.3" ry="5.7"/><ellipse cx="323.7" cy="331.3" rx="4.3" ry="5.7"/><ellipse cx="316.0" cy="316.2" rx="4.3" ry="5.7"/><ellipse cx="330.4" cy="348.2" rx="4.3" ry="5.7"/><ellipse cx="205.1" cy="339.1" rx="4.3" ry="5.7"/><ellipse cx="317.0" cy="346.2" rx="4.3" ry="5.7"/><ellipse cx="347.4" cy="316.0" rx="4.3" ry="5.7"/><ellipse cx="321.5" cy="313.7" rx="4.3" ry="5.7"/><ellipse cx="353.7" cy="323.7" rx="4.3" ry="5.7"/><ellipse cx="259.6" cy="343.1" rx="4.3" ry="5.7"/><ellipse cx="327.1" cy="298.2" rx="4.3" ry="5.7"/><ellipse cx="321.1" cy="343.4" rx="4.3" ry="5.7"/><ellipse cx="246.4" cy="336.0" rx="4.3" ry="5.7"/><ellipse cx="291.5" cy="339.6" rx="4.3" ry="5.7"/><ellipse cx="328.3" cy="282.3" rx="4.3" ry="5.7"/><ellipse cx="368.2" cy="264.7" rx="4.3" ry="5.7"/><ellipse cx="315.8" cy="289.2" rx="4.3" ry="5.7"/><ellipse cx="290.6" cy="318.2" rx="4.3" ry="5.7"/><ellipse cx="336.9" cy="297.7" rx="4.3" ry="5.7"/><ellipse cx="384.2" cy="267.0" rx="4.3" ry="5.7"/><ellipse cx="294.1" cy="316.7" rx="4.3" ry="5.7"/><ellipse cx="363.1" cy="268.4" rx="4.3" ry="5.7"/><ellipse cx="285.5" cy="347.9" rx="4.3" ry="5.7"/><ellipse cx="332.4" cy="336.2" rx="4.3" ry="5.7"/><ellipse cx="292.5" cy="349.8" rx="4.3" ry="5.7"/><ellipse cx="385.8" cy="260.3" rx="4.3" ry="5.7"/><ellipse cx="305.2" cy="290.9" rx="4.3" ry="5.7"/><ellipse cx="382.8" cy="270.2" rx="4.3" ry="5.7"/><ellipse cx="299.0" cy="330.1" rx="4.3" ry="5.7"/><ellipse cx="217.3" cy="350.7" rx="4.3" ry="5.7"/><ellipse cx="212.4" cy="336.5" rx="4.3" ry="5.7"/><ellipse cx="315.8" cy="286.1" rx="4.3" ry="5.7"/><ellipse cx="286.8" cy="311.3" rx="4.3" ry="5.7"/><ellipse cx="343.8" cy="309.8" rx="4.3" ry="5.7"/><ellipse cx="358.7" cy="326.0" rx="4.3" ry="5.7"/><ellipse cx="236.7" cy="335.6" rx="4.3" ry="5.7"/><ellipse cx="240.9" cy="337.6" rx="4.3" ry="5.7"/><ellipse cx="251.9" cy="350.1" rx="4.3" ry="5.7"/><ellipse cx="354.1" cy="274.1" rx="4.3" ry="5.7"/><ellipse cx="279.8" cy="343.4" rx="4.3" ry="5.7"/><ellipse cx="219.8" cy="348.0" rx="4.3" ry="5.7"/><ellipse cx="231.7" cy="345.0" rx="4.3" ry="5.7"/><ellipse cx="362.8" cy="272.4" rx="4.3" ry="5.7"/><ellipse cx="282.0" cy="328.9" rx="4.3" ry="5.7"/><ellipse cx="392.0" cy="266.1" rx="4.3" ry="5.7"/><ellipse cx="345.2" cy="321.2" rx="4.3" ry="5.7"/><ellipse cx="253.6" cy="329.1" rx="4.3" ry="5.7"/><ellipse cx="220.5" cy="342.6" rx="4.3" ry="5.7"/><ellipse cx="251.4" cy="326.1" rx="4.3" ry="5.7"/><ellipse cx="309.8" cy="320.6" rx="4.3" ry="5.7"/><ellipse cx="361.4" cy="280.8" rx="4.3" ry="5.7"/><ellipse cx="374.1" cy="270.3" rx="4.3" ry="5.7"/><ellipse cx="377.7" cy="257.5" rx="4.3" ry="5.7"/><ellipse cx="333.8" cy="338.3" rx="4.3" ry="5.7"/><ellipse cx="294.0" cy="309.7" rx="4.3" ry="5.7"/><ellipse cx="317.0" cy="343.4" rx="4.3" ry="5.7"/><ellipse cx="355.9" cy="292.2" rx="4.3" ry="5.7"/><ellipse cx="222.4" cy="338.5" rx="4.3" ry="5.7"/><ellipse cx="290.4" cy="326.7" rx="4.3" ry="5.7"/><ellipse cx="250.4" cy="325.0" rx="4.3" ry="5.7"/><ellipse cx="261.7" cy="323.4" rx="4.3" ry="5.7"/><ellipse cx="261.8" cy="344.2" rx="4.3" ry="5.7"/><ellipse cx="227.2" cy="349.3" rx="4.3" ry="5.7"/><ellipse cx="213.7" cy="349.3" rx="4.3" ry="5.7"/><ellipse cx="233.8" cy="348.4" rx="4.3" ry="5.7"/><ellipse cx="287.7" cy="336.9" rx="4.3" ry="5.7"/><ellipse cx="352.6" cy="273.6" rx="4.3" ry="5.7"/><ellipse cx="333.3" cy="282.5" rx="4.3" ry="5.7"/><ellipse cx="374.1" cy="287.4" rx="4.3" ry="5.7"/><ellipse cx="340.3" cy="337.5" rx="4.3" ry="5.7"/><ellipse cx="276.9" cy="328.6" rx="4.3" ry="5.7"/><ellipse cx="364.0" cy="325.0" rx="4.3" ry="5.7"/><ellipse cx="368.4" cy="272.6" rx="4.3" ry="5.7"/><ellipse cx="369.1" cy="291.0" rx="4.3" ry="5.7"/><ellipse cx="288.6" cy="308.8" rx="4.3" ry="5.7"/><ellipse cx="320.3" cy="344.9" rx="4.3" ry="5.7"/><ellipse cx="344.9" cy="288.1" rx="4.3" ry="5.7"/><ellipse cx="357.2" cy="314.2" rx="4.3" ry="5.7"/><ellipse cx="269.0" cy="328.3" rx="4.3" ry="5.7"/><ellipse cx="271.7" cy="346.9" rx="4.3" ry="5.7"/><ellipse cx="280.4" cy="320.9" rx="4.3" ry="5.7"/><ellipse cx="387.7" cy="268.2" rx="4.3" ry="5.7"/><ellipse cx="361.9" cy="266.8" rx="4.3" ry="5.7"/><ellipse cx="337.5" cy="339.0" rx="4.3" ry="5.7"/><ellipse cx="277.6" cy="319.9" rx="4.3" ry="5.7"/><ellipse cx="300.9" cy="334.0" rx="4.3" ry="5.7"/><ellipse cx="365.5" cy="293.2" rx="4.3" ry="5.7"/><ellipse cx="299.8" cy="344.0" rx="4.3" ry="5.7"/><ellipse cx="235.7" cy="341.4" rx="4.3" ry="5.7"/><ellipse cx="266.9" cy="325.6" rx="4.3" ry="5.7"/><ellipse cx="357.1" cy="305.9" rx="4.3" ry="5.7"/><ellipse cx="267.2" cy="345.3" rx="4.3" ry="5.7"/><ellipse cx="357.4" cy="305.5" rx="4.3" ry="5.7"/><ellipse cx="234.2" cy="341.3" rx="4.3" ry="5.7"/><ellipse cx="228.1" cy="350.6" rx="4.3" ry="5.7"/><ellipse cx="343.8" cy="334.2" rx="4.3" ry="5.7"/><ellipse cx="351.3" cy="283.3" rx="4.3" ry="5.7"/><ellipse cx="355.5" cy="336.4" rx="4.3" ry="5.7"/><ellipse cx="317.9" cy="349.9" rx="4.3" ry="5.7"/><ellipse cx="364.9" cy="272.1" rx="4.3" ry="5.7"/><ellipse cx="296.6" cy="343.3" rx="4.3" ry="5.7"/><ellipse cx="331.5" cy="273.7" rx="4.3" ry="5.7"/><ellipse cx="223.8" cy="335.7" rx="4.3" ry="5.7"/><ellipse cx="308.8" cy="320.9" rx="4.3" ry="5.7"/><ellipse cx="364.4" cy="303.0" rx="4.3" ry="5.7"/><ellipse cx="319.3" cy="304.3" rx="4.3" ry="5.7"/><ellipse cx="313.5" cy="280.4" rx="4.3" ry="5.7"/><ellipse cx="231.0" cy="347.6" rx="4.3" ry="5.7"/><ellipse cx="311.4" cy="342.7" rx="4.3" ry="5.7"/><ellipse cx="370.7" cy="307.6" rx="4.3" ry="5.7"/><ellipse cx="309.3" cy="334.0" rx="4.3" ry="5.7"/><ellipse cx="296.8" cy="318.1" rx="4.3" ry="5.7"/><ellipse cx="292.2" cy="320.8" rx="4.3" ry="5.7"/><ellipse cx="392.0" cy="258.3" rx="4.3" ry="5.7"/><ellipse cx="255.7" cy="335.1" rx="4.3" ry="5.7"/><ellipse cx="299.1" cy="343.8" rx="4.3" ry="5.7"/><ellipse cx="368.6" cy="280.0" rx="4.3" ry="5.7"/><ellipse cx="337.9" cy="333.8" rx="4.3" ry="5.7"/><ellipse cx="261.1" cy="321.2" rx="4.3" ry="5.7"/><ellipse cx="301.8" cy="307.4" rx="4.3" ry="5.7"/><ellipse cx="377.5" cy="268.2" rx="4.3" ry="5.7"/><ellipse cx="342.6" cy="291.1" rx="4.3" ry="5.7"/><ellipse cx="347.1" cy="274.2" rx="4.3" ry="5.7"/><ellipse cx="273.4" cy="343.6" rx="4.3" ry="5.7"/><ellipse cx="308.2" cy="343.9" rx="4.3" ry="5.7"/><ellipse cx="360.8" cy="306.9" rx="4.3" ry="5.7"/><ellipse cx="276.0" cy="342.2" rx="4.3" ry="5.7"/><ellipse cx="334.5" cy="293.4" rx="4.3" ry="5.7"/><ellipse cx="235.5" cy="344.7" rx="4.3" ry="5.7"/><ellipse cx="309.3" cy="336.6" rx="4.3" ry="5.7"/><ellipse cx="360.8" cy="289.0" rx="4.3" ry="5.7"/><ellipse cx="292.0" cy="324.9" rx="4.3" ry="5.7"/><ellipse cx="315.2" cy="314.4" rx="4.3" ry="5.7"/><ellipse cx="275.9" cy="321.0" rx="4.3" ry="5.7"/><ellipse cx="311.3" cy="325.8" rx="4.3" ry="5.7"/><ellipse cx="332.0" cy="331.1" rx="4.3" ry="5.7"/><ellipse cx="205.0" cy="339.9" rx="4.3" ry="5.7"/><ellipse cx="369.2" cy="250.3" rx="4.3" ry="5.7"/><ellipse cx="375.4" cy="263.6" rx="4.3" ry="5.7"/><ellipse cx="344.1" cy="335.8" rx="4.3" ry="5.7"/><ellipse cx="245.2" cy="332.0" rx="4.3" ry="5.7"/><ellipse cx="387.8" cy="266.1" rx="4.3" ry="5.7"/><ellipse cx="292.4" cy="336.5" rx="4.3" ry="5.7"/><ellipse cx="373.0" cy="289.2" rx="4.3" ry="5.7"/><ellipse cx="322.8" cy="311.6" rx="4.3" ry="5.7"/><ellipse cx="272.1" cy="333.9" rx="4.3" ry="5.7"/><ellipse cx="324.7" cy="344.9" rx="4.3" ry="5.7"/><ellipse cx="295.0" cy="311.1" rx="4.3" ry="5.7"/><ellipse cx="248.5" cy="329.6" rx="4.3" ry="5.7"/><ellipse cx="231.8" cy="346.7" rx="4.3" ry="5.7"/><ellipse cx="218.6" cy="346.1" rx="4.3" ry="5.7"/><ellipse cx="312.0" cy="332.7" rx="4.3" ry="5.7"/><ellipse cx="262.3" cy="331.0" rx="4.3" ry="5.7"/><ellipse cx="261.7" cy="339.4" rx="4.3" ry="5.7"/><ellipse cx="285.5" cy="310.6" rx="4.3" ry="5.7"/><ellipse cx="287.4" cy="335.5" rx="4.3" ry="5.7"/><ellipse cx="233.6" cy="345.4" rx="4.3" ry="5.7"/><ellipse cx="357.9" cy="323.3" rx="4.3" ry="5.7"/><ellipse cx="245.7" cy="345.8" rx="4.3" ry="5.7"/><ellipse cx="326.5" cy="291.0" rx="4.3" ry="5.7"/><ellipse cx="213.5" cy="347.1" rx="4.3" ry="5.7"/><ellipse cx="339.6" cy="275.5" rx="4.3" ry="5.7"/><ellipse cx="366.7" cy="299.0" rx="4.3" ry="5.7"/><ellipse cx="327.2" cy="304.1" rx="4.3" ry="5.7"/><ellipse cx="288.4" cy="336.3" rx="4.3" ry="5.7"/><ellipse cx="345.7" cy="284.8" rx="4.3" ry="5.7"/><ellipse cx="340.7" cy="324.7" rx="4.3" ry="5.7"/><ellipse cx="349.3" cy="278.0" rx="4.3" ry="5.7"/><ellipse cx="311.8" cy="336.2" rx="4.3" ry="5.7"/><ellipse cx="247.8" cy="332.2" rx="4.3" ry="5.7"/><ellipse cx="354.0" cy="271.6" rx="4.3" ry="5.7"/><ellipse cx="244.7" cy="335.0" rx="4.3" ry="5.7"/><ellipse cx="381.9" cy="255.6" rx="4.3" ry="5.7"/><ellipse cx="356.0" cy="271.4" rx="4.3" ry="5.7"/><ellipse cx="227.5" cy="341.4" rx="4.3" ry="5.7"/><ellipse cx="210.0" cy="346.0" rx="4.3" ry="5.7"/><ellipse cx="249.9" cy="321.5" rx="4.3" ry="5.7"/><ellipse cx="352.7" cy="297.5" rx="4.3" ry="5.7"/><ellipse cx="244.7" cy="329.4" rx="4.3" ry="5.7"/><ellipse cx="364.7" cy="254.6" rx="4.3" ry="5.7"/><ellipse cx="272.0" cy="325.1" rx="4.3" ry="5.7"/><ellipse cx="279.8" cy="318.4" rx="4.3" ry="5.7"/><ellipse cx="314.7" cy="307.9" rx="4.3" ry="5.7"/><ellipse cx="260.1" cy="335.4" rx="4.3" ry="5.7"/><ellipse cx="359.0" cy="307.7" rx="4.3" ry="5.7"/><ellipse cx="212.0" cy="349.4" rx="4.3" ry="5.7"/><ellipse cx="288.6" cy="319.3" rx="4.3" ry="5.7"/><ellipse cx="324.6" cy="298.6" rx="4.3" ry="5.7"/><ellipse cx="301.1" cy="326.5" rx="4.3" ry="5.7"/><ellipse cx="329.4" cy="287.3" rx="4.3" ry="5.7"/><ellipse cx="326.7" cy="349.9" rx="4.3" ry="5.7"/><ellipse cx="225.0" cy="334.4" rx="4.3" ry="5.7"/><ellipse cx="366.7" cy="279.5" rx="4.3" ry="5.7"/><ellipse cx="242.1" cy="351.1" rx="4.3" ry="5.7"/><ellipse cx="210.7" cy="348.3" rx="4.3" ry="5.7"/><ellipse cx="310.3" cy="336.1" rx="4.3" ry="5.7"/><ellipse cx="261.3" cy="327.0" rx="4.3" ry="5.7"/><ellipse cx="387.7" cy="265.9" rx="4.3" ry="5.7"/><ellipse cx="380.1" cy="263.2" rx="4.3" ry="5.7"/><ellipse cx="248.0" cy="322.8" rx="4.3" ry="5.7"/><ellipse cx="248.9" cy="335.7" rx="4.3" ry="5.7"/><ellipse cx="382.9" cy="278.7" rx="4.3" ry="5.7"/><ellipse cx="291.4" cy="329.5" rx="4.3" ry="5.7"/><ellipse cx="273.9" cy="340.7" rx="4.3" ry="5.7"/><ellipse cx="316.6" cy="329.2" rx="4.3" ry="5.7"/><ellipse cx="348.1" cy="306.9" rx="4.3" ry="5.7"/><ellipse cx="250.6" cy="345.3" rx="4.3" ry="5.7"/><ellipse cx="305.3" cy="308.4" rx="4.3" ry="5.7"/><ellipse cx="321.8" cy="305.7" rx="4.3" ry="5.7"/><ellipse cx="346.7" cy="281.5" rx="4.3" ry="5.7"/><ellipse cx="366.7" cy="296.3" rx="4.3" ry="5.7"/><ellipse cx="224.6" cy="332.2" rx="4.3" ry="5.7"/><ellipse cx="332.3" cy="288.9" rx="4.3" ry="5.7"/><ellipse cx="229.0" cy="335.5" rx="4.3" ry="5.7"/><ellipse cx="365.2" cy="269.9" rx="4.3" ry="5.7"/><ellipse cx="348.1" cy="298.0" rx="4.3" ry="5.7"/><ellipse cx="347.4" cy="312.4" rx="4.3" ry="5.7"/><ellipse cx="270.0" cy="316.7" rx="4.3" ry="5.7"/><ellipse cx="339.4" cy="274.1" rx="4.3" ry="5.7"/><ellipse cx="240.4" cy="344.2" rx="4.3" ry="5.7"/><ellipse cx="352.4" cy="326.6" rx="4.3" ry="5.7"/><ellipse cx="341.1" cy="285.0" rx="4.3" ry="5.7"/><ellipse cx="322.2" cy="337.6" rx="4.3" ry="5.7"/><ellipse cx="279.4" cy="317.2" rx="4.3" ry="5.7"/><ellipse cx="327.9" cy="297.1" rx="4.3" ry="5.7"/><ellipse cx="381.9" cy="271.2" rx="4.3" ry="5.7"/><ellipse cx="365.3" cy="278.1" rx="4.3" ry="5.7"/><ellipse cx="358.6" cy="298.4" rx="4.3" ry="5.7"/><ellipse cx="290.4" cy="325.3" rx="4.3" ry="5.7"/><ellipse cx="291.0" cy="313.2" rx="4.3" ry="5.7"/><ellipse cx="380.5" cy="278.1" rx="4.3" ry="5.7"/><ellipse cx="273.3" cy="315.4" rx="4.3" ry="5.7"/><ellipse cx="358.7" cy="261.6" rx="4.3" ry="5.7"/><ellipse cx="245.7" cy="350.1" rx="4.3" ry="5.7"/><ellipse cx="254.3" cy="347.4" rx="4.3" ry="5.7"/><ellipse cx="296.0" cy="312.7" rx="4.3" ry="5.7"/><ellipse cx="299.5" cy="307.7" rx="4.3" ry="5.7"/><ellipse cx="327.4" cy="353.4" rx="4.3" ry="5.7"/><ellipse cx="345.3" cy="293.6" rx="4.3" ry="5.7"/><ellipse cx="213.2" cy="339.7" rx="4.3" ry="5.7"/><ellipse cx="363.8" cy="275.9" rx="4.3" ry="5.7"/><ellipse cx="302.6" cy="331.6" rx="4.3" ry="5.7"/><ellipse cx="240.2" cy="336.6" rx="4.3" ry="5.7"/><ellipse cx="359.0" cy="261.2" rx="4.3" ry="5.7"/><ellipse cx="325.4" cy="334.4" rx="4.3" ry="5.7"/><ellipse cx="357.9" cy="277.0" rx="4.3" ry="5.7"/><ellipse cx="335.9" cy="308.7" rx="4.3" ry="5.7"/><ellipse cx="344.2" cy="300.7" rx="4.3" ry="5.7"/><ellipse cx="348.2" cy="323.4" rx="4.3" ry="5.7"/><ellipse cx="307.8" cy="330.9" rx="4.3" ry="5.7"/><ellipse cx="333.7" cy="283.4" rx="4.3" ry="5.7"/><ellipse cx="362.8" cy="301.5" rx="4.3" ry="5.7"/><ellipse cx="358.4" cy="299.0" rx="4.3" ry="5.7"/><ellipse cx="340.3" cy="297.6" rx="4.3" ry="5.7"/><ellipse cx="217.0" cy="335.3" rx="4.3" ry="5.7"/><ellipse cx="359.5" cy="290.9" rx="4.3" ry="5.7"/><ellipse cx="276.1" cy="331.5" rx="4.3" ry="5.7"/><ellipse cx="335.6" cy="331.7" rx="4.3" ry="5.7"/><ellipse cx="286.6" cy="304.6" rx="4.3" ry="5.7"/><ellipse cx="233.1" cy="340.8" rx="4.3" ry="5.7"/><ellipse cx="310.6" cy="346.4" rx="4.3" ry="5.7"/><ellipse cx="355.2" cy="289.8" rx="4.3" ry="5.7"/><ellipse cx="367.5" cy="288.2" rx="4.3" ry="5.7"/><ellipse cx="366.2" cy="282.5" rx="4.3" ry="5.7"/><ellipse cx="352.3" cy="305.0" rx="4.3" ry="5.7"/><ellipse cx="321.2" cy="279.8" rx="4.3" ry="5.7"/><ellipse cx="312.5" cy="322.4" rx="4.3" ry="5.7"/><ellipse cx="312.1" cy="306.3" rx="4.3" ry="5.7"/><ellipse cx="353.3" cy="316.5" rx="4.3" ry="5.7"/><ellipse cx="314.2" cy="297.3" rx="4.3" ry="5.7"/><ellipse cx="341.4" cy="274.9" rx="4.3" ry="5.7"/><ellipse cx="323.0" cy="324.0" rx="4.3" ry="5.7"/><ellipse cx="358.4" cy="272.5" rx="4.3" ry="5.7"/><ellipse cx="353.1" cy="274.5" rx="4.3" ry="5.7"/><ellipse cx="335.5" cy="320.2" rx="4.3" ry="5.7"/><ellipse cx="323.8" cy="293.1" rx="4.3" ry="5.7"/><ellipse cx="316.0" cy="289.8" rx="4.3" ry="5.7"/><ellipse cx="294.8" cy="310.4" rx="4.3" ry="5.7"/><ellipse cx="260.1" cy="334.1" rx="4.3" ry="5.7"/><ellipse cx="277.7" cy="354.2" rx="4.3" ry="5.7"/><ellipse cx="287.1" cy="344.1" rx="4.3" ry="5.7"/><ellipse cx="293.6" cy="306.6" rx="4.3" ry="5.7"/><ellipse cx="249.8" cy="341.1" rx="4.3" ry="5.7"/><ellipse cx="384.9" cy="266.7" rx="4.3" ry="5.7"/><ellipse cx="305.0" cy="319.6" rx="4.3" ry="5.7"/><ellipse cx="297.4" cy="313.3" rx="4.3" ry="5.7"/><ellipse cx="272.9" cy="310.7" rx="4.3" ry="5.7"/><ellipse cx="365.0" cy="265.9" rx="4.3" ry="5.7"/><ellipse cx="236.4" cy="355.0" rx="4.3" ry="5.7"/><ellipse cx="259.0" cy="324.1" rx="4.3" ry="5.7"/><ellipse cx="301.8" cy="345.9" rx="4.3" ry="5.7"/><ellipse cx="275.1" cy="341.7" rx="4.3" ry="5.7"/><ellipse cx="359.1" cy="321.1" rx="4.3" ry="5.7"/><ellipse cx="327.6" cy="284.6" rx="4.3" ry="5.7"/><ellipse cx="314.1" cy="349.3" rx="4.3" ry="5.7"/><ellipse cx="293.3" cy="354.3" rx="4.3" ry="5.7"/><ellipse cx="287.0" cy="321.6" rx="4.3" ry="5.7"/><ellipse cx="292.6" cy="322.0" rx="4.3" ry="5.7"/><ellipse cx="355.8" cy="325.4" rx="4.3" ry="5.7"/><ellipse cx="315.6" cy="328.5" rx="4.3" ry="5.7"/><ellipse cx="276.4" cy="349.0" rx="4.3" ry="5.7"/><ellipse cx="252.2" cy="329.1" rx="4.3" ry="5.7"/><ellipse cx="350.6" cy="322.9" rx="4.3" ry="5.7"/><ellipse cx="368.8" cy="295.3" rx="4.3" ry="5.7"/><ellipse cx="343.7" cy="301.2" rx="4.3" ry="5.7"/><ellipse cx="358.4" cy="314.8" rx="4.3" ry="5.7"/><ellipse cx="259.3" cy="325.8" rx="4.3" ry="5.7"/><ellipse cx="322.6" cy="271.4" rx="4.3" ry="5.7"/><ellipse cx="334.8" cy="311.2" rx="4.3" ry="5.7"/><ellipse cx="307.3" cy="288.4" rx="4.3" ry="5.7"/><ellipse cx="301.2" cy="316.1" rx="4.3" ry="5.7"/><ellipse cx="305.1" cy="337.4" rx="4.3" ry="5.7"/><ellipse cx="211.2" cy="342.5" rx="4.3" ry="5.7"/><ellipse cx="336.1" cy="300.4" rx="4.3" ry="5.7"/><ellipse cx="333.9" cy="341.1" rx="4.3" ry="5.7"/><ellipse cx="279.7" cy="339.2" rx="4.3" ry="5.7"/><ellipse cx="345.3" cy="329.6" rx="4.3" ry="5.7"/><ellipse cx="372.7" cy="281.2" rx="4.3" ry="5.7"/><ellipse cx="256.7" cy="346.5" rx="4.3" ry="5.7"/><ellipse cx="291.3" cy="327.1" rx="4.3" ry="5.7"/><ellipse cx="252.5" cy="335.5" rx="4.3" ry="5.7"/><ellipse cx="344.3" cy="318.4" rx="4.3" ry="5.7"/><ellipse cx="244.1" cy="340.1" rx="4.3" ry="5.7"/><ellipse cx="320.0" cy="272.4" rx="4.3" ry="5.7"/><ellipse cx="287.1" cy="331.5" rx="4.3" ry="5.7"/><ellipse cx="342.0" cy="301.6" rx="4.3" ry="5.7"/><ellipse cx="362.2" cy="291.6" rx="4.3" ry="5.7"/><ellipse cx="330.8" cy="342.3" rx="4.3" ry="5.7"/><ellipse cx="363.3" cy="312.9" rx="4.3" ry="5.7"/><ellipse cx="351.3" cy="276.7" rx="4.3" ry="5.7"/><ellipse cx="372.7" cy="295.5" rx="4.3" ry="5.7"/><ellipse cx="309.7" cy="344.9" rx="4.3" ry="5.7"/><ellipse cx="325.7" cy="340.2" rx="4.3" ry="5.7"/><ellipse cx="343.0" cy="309.0" rx="4.3" ry="5.7"/><ellipse cx="250.9" cy="341.3" rx="4.3" ry="5.7"/><ellipse cx="349.1" cy="265.7" rx="4.3" ry="5.7"/><ellipse cx="273.8" cy="346.6" rx="4.3" ry="5.7"/><ellipse cx="356.4" cy="295.1" rx="4.3" ry="5.7"/><ellipse cx="373.6" cy="285.7" rx="4.3" ry="5.7"/><ellipse cx="330.7" cy="284.9" rx="4.3" ry="5.7"/><ellipse cx="273.3" cy="306.2" rx="4.3" ry="5.7"/><ellipse cx="271.5" cy="344.5" rx="4.3" ry="5.7"/><ellipse cx="288.5" cy="334.9" rx="4.3" ry="5.7"/><ellipse cx="332.2" cy="311.2" rx="4.3" ry="5.7"/><ellipse cx="343.3" cy="296.4" rx="4.3" ry="5.7"/><ellipse cx="353.0" cy="298.4" rx="4.3" ry="5.7"/><ellipse cx="309.2" cy="340.3" rx="4.3" ry="5.7"/><ellipse cx="295.7" cy="310.1" rx="4.3" ry="5.7"/><ellipse cx="275.4" cy="342.1" rx="4.3" ry="5.7"/><ellipse cx="343.0" cy="267.0" rx="4.3" ry="5.7"/><ellipse cx="356.0" cy="286.6" rx="4.3" ry="5.7"/><ellipse cx="248.0" cy="345.1" rx="4.3" ry="5.7"/><ellipse cx="274.3" cy="313.9" rx="4.3" ry="5.7"/><ellipse cx="359.8" cy="303.1" rx="4.3" ry="5.7"/><ellipse cx="329.1" cy="296.7" rx="4.3" ry="5.7"/><ellipse cx="256.4" cy="332.9" rx="4.3" ry="5.7"/><ellipse cx="312.4" cy="346.7" rx="4.3" ry="5.7"/><ellipse cx="371.5" cy="258.8" rx="4.3" ry="5.7"/><ellipse cx="336.5" cy="319.1" rx="4.3" ry="5.7"/><ellipse cx="318.9" cy="316.1" rx="4.3" ry="5.7"/><ellipse cx="335.8" cy="333.2" rx="4.3" ry="5.7"/><ellipse cx="270.1" cy="339.6" rx="4.3" ry="5.7"/><ellipse cx="325.0" cy="298.7" rx="4.3" ry="5.7"/><ellipse cx="332.2" cy="295.1" rx="4.3" ry="5.7"/><ellipse cx="235.8" cy="337.9" rx="4.3" ry="5.7"/><ellipse cx="353.5" cy="280.3" rx="4.3" ry="5.7"/><ellipse cx="299.5" cy="295.8" rx="4.3" ry="5.7"/><ellipse cx="349.2" cy="283.3" rx="4.3" ry="5.7"/><ellipse cx="291.5" cy="309.3" rx="4.3" ry="5.7"/><ellipse cx="310.4" cy="350.3" rx="4.3" ry="5.7"/><ellipse cx="373.4" cy="280.3" rx="4.3" ry="5.7"/><ellipse cx="369.7" cy="298.9" rx="4.3" ry="5.7"/><ellipse cx="263.2" cy="353.0" rx="4.3" ry="5.7"/><ellipse cx="308.7" cy="305.9" rx="4.3" ry="5.7"/><ellipse cx="361.3" cy="265.4" rx="4.3" ry="5.7"/><ellipse cx="296.6" cy="321.1" rx="4.3" ry="5.7"/><ellipse cx="325.0" cy="321.3" rx="4.3" ry="5.7"/><ellipse cx="335.8" cy="328.7" rx="4.3" ry="5.7"/><ellipse cx="324.0" cy="291.1" rx="4.3" ry="5.7"/><ellipse cx="373.8" cy="284.6" rx="4.3" ry="5.7"/><ellipse cx="256.3" cy="344.4" rx="4.3" ry="5.7"/><ellipse cx="259.8" cy="322.3" rx="4.3" ry="5.7"/><ellipse cx="308.2" cy="326.1" rx="4.3" ry="5.7"/><ellipse cx="311.6" cy="345.5" rx="4.3" ry="5.7"/><ellipse cx="238.5" cy="343.7" rx="4.3" ry="5.7"/><ellipse cx="362.5" cy="274.6" rx="4.3" ry="5.7"/><ellipse cx="332.5" cy="341.9" rx="4.3" ry="5.7"/><ellipse cx="336.2" cy="331.1" rx="4.3" ry="5.7"/><ellipse cx="348.8" cy="309.0" rx="4.3" ry="5.7"/><ellipse cx="346.8" cy="331.4" rx="4.3" ry="5.7"/><ellipse cx="345.3" cy="297.3" rx="4.3" ry="5.7"/><ellipse cx="323.7" cy="347.9" rx="4.3" ry="5.7"/><ellipse cx="260.4" cy="349.7" rx="4.3" ry="5.7"/><ellipse cx="375.5" cy="251.4" rx="4.3" ry="5.7"/><ellipse cx="352.8" cy="321.6" rx="4.3" ry="5.7"/><ellipse cx="373.2" cy="292.9" rx="4.3" ry="5.7"/><ellipse cx="366.7" cy="295.6" rx="4.3" ry="5.7"/><ellipse cx="332.0" cy="313.9" rx="4.3" ry="5.7"/><ellipse cx="292.3" cy="300.9" rx="4.3" ry="5.7"/><ellipse cx="282.6" cy="302.6" rx="4.3" ry="5.7"/><ellipse cx="316.1" cy="307.1" rx="4.3" ry="5.7"/><ellipse cx="219.2" cy="344.4" rx="4.3" ry="5.7"/><ellipse cx="236.5" cy="348.0" rx="4.3" ry="5.7"/><ellipse cx="363.6" cy="258.8" rx="4.3" ry="5.7"/><ellipse cx="325.9" cy="292.1" rx="4.3" ry="5.7"/><ellipse cx="261.4" cy="350.7" rx="4.3" ry="5.7"/><ellipse cx="258.4" cy="344.5" rx="4.3" ry="5.7"/><ellipse cx="318.3" cy="327.5" rx="4.3" ry="5.7"/><ellipse cx="369.6" cy="278.6" rx="4.3" ry="5.7"/><ellipse cx="283.0" cy="308.4" rx="4.3" ry="5.7"/><ellipse cx="256.4" cy="351.2" rx="4.3" ry="5.7"/><ellipse cx="362.9" cy="308.5" rx="4.3" ry="5.7"/><ellipse cx="260.8" cy="344.3" rx="4.3" ry="5.7"/><ellipse cx="341.8" cy="267.2" rx="4.3" ry="5.7"/><ellipse cx="320.8" cy="279.6" rx="4.3" ry="5.7"/><ellipse cx="163.6" cy="351.5" rx="4.3" ry="5.7"/><ellipse cx="176.1" cy="341.0" rx="4.3" ry="5.7"/><ellipse cx="174.6" cy="350.2" rx="4.3" ry="5.7"/><ellipse cx="177.3" cy="349.5" rx="4.3" ry="5.7"/><ellipse cx="186.6" cy="349.5" rx="4.3" ry="5.7"/><ellipse cx="187.8" cy="356.5" rx="4.3" ry="5.7"/><ellipse cx="197.8" cy="330.2" rx="4.3" ry="5.7"/><ellipse cx="199.1" cy="345.2" rx="4.3" ry="5.7"/><ellipse cx="204.8" cy="361.5" rx="4.3" ry="5.7"/><ellipse cx="210.3" cy="359.0" rx="4.3" ry="5.7"/><ellipse cx="212.8" cy="327.0" rx="4.3" ry="5.7"/><ellipse cx="227.8" cy="326.0" rx="4.3" ry="5.7"/><ellipse cx="239.1" cy="362.8" rx="4.3" ry="5.7"/><ellipse cx="240.8" cy="316.5" rx="4.3" ry="5.7"/><ellipse cx="247.8" cy="360.2" rx="4.3" ry="5.7"/><ellipse cx="254.1" cy="309.5" rx="4.3" ry="5.7"/><ellipse cx="255.3" cy="312.0" rx="4.3" ry="5.7"/><ellipse cx="266.6" cy="355.2" rx="4.3" ry="5.7"/><ellipse cx="269.9" cy="304.0" rx="4.3" ry="5.7"/><ellipse cx="285.4" cy="354.0" rx="4.3" ry="5.7"/><ellipse cx="306.6" cy="359.0" rx="4.3" ry="5.7"/><ellipse cx="330.4" cy="352.8" rx="4.3" ry="5.7"/><ellipse cx="336.6" cy="350.2" rx="4.3" ry="5.7"/><ellipse cx="359.1" cy="345.2" rx="4.3" ry="5.7"/><ellipse cx="369.9" cy="341.5" rx="4.3" ry="5.7"/><ellipse cx="375.4" cy="336.5" rx="4.3" ry="5.7"/><ellipse cx="384.1" cy="327.8" rx="4.3" ry="5.7"/><ellipse cx="375.4" cy="325.2" rx="4.3" ry="5.7"/><ellipse cx="402.9" cy="324.0" rx="4.3" ry="5.7"/><ellipse cx="400.4" cy="316.5" rx="4.3" ry="5.7"/><ellipse cx="397.9" cy="307.8" rx="4.3" ry="5.7"/><ellipse cx="392.9" cy="301.5" rx="4.3" ry="5.7"/><ellipse cx="386.6" cy="302.8" rx="4.3" ry="5.7"/><ellipse cx="347.9" cy="342.8" rx="4.3" ry="5.7"/><ellipse cx="352.9" cy="341.5" rx="4.3" ry="5.7"/><ellipse cx="220.3" cy="356.5" rx="4.3" ry="5.7"/><ellipse cx="232.8" cy="359.0" rx="4.3" ry="5.7"/><ellipse cx="260.4" cy="357.8" rx="4.3" ry="5.7"/><ellipse cx="275.4" cy="356.5" rx="4.3" ry="5.7"/><ellipse cx="295.4" cy="356.5" rx="4.3" ry="5.7"/><ellipse cx="300.4" cy="356.5" rx="4.3" ry="5.7"/><ellipse cx="312.9" cy="354.0" rx="4.3" ry="5.7"/><ellipse cx="320.4" cy="352.8" rx="4.3" ry="5.7"/><ellipse cx="325.4" cy="352.8" rx="4.3" ry="5.7"/><ellipse cx="340.4" cy="346.5" rx="4.3" ry="5.7"/><ellipse cx="441.6" cy="179.2" rx="4.3" ry="5.7"/><ellipse cx="440.4" cy="183.0" rx="4.3" ry="5.7"/><ellipse cx="437.9" cy="185.5" rx="4.3" ry="5.7"/><ellipse cx="450.4" cy="189.2" rx="4.3" ry="5.7"/><ellipse cx="429.1" cy="194.8" rx="4.3" ry="5.7"/><ellipse cx="436.6" cy="196.8" rx="4.3" ry="5.7"/><ellipse cx="435.4" cy="201.8" rx="4.3" ry="5.7"/><ellipse cx="427.9" cy="203.0" rx="4.3" ry="5.7"/><ellipse cx="417.9" cy="199.2" rx="4.3" ry="5.7"/><ellipse cx="410.4" cy="199.2" rx="4.3" ry="5.7"/><ellipse cx="407.9" cy="201.8" rx="4.3" ry="5.7"/><ellipse cx="385.4" cy="199.2" rx="4.3" ry="5.7"/><ellipse cx="387.9" cy="208.0" rx="4.3" ry="5.7"/><ellipse cx="377.9" cy="209.2" rx="4.3" ry="5.7"/><ellipse cx="391.6" cy="211.8" rx="4.3" ry="5.7"/><ellipse cx="394.1" cy="214.2" rx="4.3" ry="5.7"/><ellipse cx="380.4" cy="215.5" rx="4.3" ry="5.7"/><ellipse cx="404.1" cy="208.0" rx="4.3" ry="5.7"/><ellipse cx="410.4" cy="210.5" rx="4.3" ry="5.7"/><ellipse cx="415.4" cy="216.8" rx="4.3" ry="5.7"/><ellipse cx="417.9" cy="215.5" rx="4.3" ry="5.7"/><ellipse cx="409.1" cy="216.8" rx="4.3" ry="5.7"/><ellipse cx="406.6" cy="223.0" rx="4.3" ry="5.7"/><ellipse cx="404.1" cy="224.2" rx="4.3" ry="5.7"/><ellipse cx="396.6" cy="220.5" rx="4.3" ry="5.7"/><ellipse cx="395.4" cy="228.0" rx="4.3" ry="5.7"/><ellipse cx="392.9" cy="231.8" rx="4.3" ry="5.7"/><ellipse cx="386.6" cy="224.2" rx="4.3" ry="5.7"/><ellipse cx="385.4" cy="230.5" rx="4.3" ry="5.7"/><ellipse cx="376.6" cy="226.8" rx="4.3" ry="5.7"/><ellipse cx="377.9" cy="230.5" rx="4.3" ry="5.7"/><ellipse cx="364.1" cy="215.5" rx="4.3" ry="5.7"/><ellipse cx="359.1" cy="218.0" rx="4.3" ry="5.7"/><ellipse cx="365.4" cy="226.8" rx="4.3" ry="5.7"/><ellipse cx="361.6" cy="230.5" rx="4.3" ry="5.7"/><ellipse cx="360.4" cy="233.0" rx="4.3" ry="5.7"/><ellipse cx="425.4" cy="221.8" rx="4.3" ry="5.7"/><ellipse cx="434.1" cy="219.2" rx="4.3" ry="5.7"/><ellipse cx="435.4" cy="230.5" rx="4.3" ry="5.7"/><ellipse cx="445.4" cy="229.2" rx="4.3" ry="5.7"/><ellipse cx="424.1" cy="241.8" rx="4.3" ry="5.7"/><ellipse cx="416.6" cy="235.5" rx="4.3" ry="5.7"/><ellipse cx="416.6" cy="244.2" rx="4.3" ry="5.7"/><ellipse cx="410.4" cy="235.5" rx="4.3" ry="5.7"/><ellipse cx="414.1" cy="251.8" rx="4.3" ry="5.7"/><ellipse cx="405.4" cy="245.5" rx="4.3" ry="5.7"/><ellipse cx="400.4" cy="238.0" rx="4.3" ry="5.7"/><ellipse cx="401.6" cy="243.0" rx="4.3" ry="5.7"/><ellipse cx="394.1" cy="245.5" rx="4.3" ry="5.7"/><ellipse cx="389.1" cy="238.0" rx="4.3" ry="5.7"/><ellipse cx="384.1" cy="235.5" rx="4.3" ry="5.7"/><ellipse cx="379.1" cy="238.0" rx="4.3" ry="5.7"/><ellipse cx="375.4" cy="243.0" rx="4.3" ry="5.7"/><ellipse cx="372.9" cy="239.2" rx="4.3" ry="5.7"/><ellipse cx="370.4" cy="245.5" rx="4.3" ry="5.7"/><ellipse cx="365.4" cy="248.0" rx="4.3" ry="5.7"/><ellipse cx="360.4" cy="243.0" rx="4.3" ry="5.7"/><ellipse cx="356.6" cy="239.2" rx="4.3" ry="5.7"/><ellipse cx="355.4" cy="245.5" rx="4.3" ry="5.7"/><ellipse cx="334.1" cy="246.8" rx="4.3" ry="5.7"/><ellipse cx="344.1" cy="246.8" rx="4.3" ry="5.7"/><ellipse cx="346.6" cy="249.2" rx="4.3" ry="5.7"/><ellipse cx="440.4" cy="241.8" rx="4.3" ry="5.7"/><ellipse cx="434.1" cy="259.8" rx="4.3" ry="5.7"/><ellipse cx="404.1" cy="254.2" rx="4.3" ry="5.7"/><ellipse cx="404.1" cy="260.5" rx="4.3" ry="5.7"/><ellipse cx="407.9" cy="270.0" rx="4.3" ry="5.7"/><ellipse cx="392.9" cy="260.5" rx="4.3" ry="5.7"/><ellipse cx="390.4" cy="268.0" rx="4.3" ry="5.7"/><ellipse cx="386.6" cy="253.0" rx="4.3" ry="5.7"/><ellipse cx="380.4" cy="255.5" rx="4.3" ry="5.7"/><ellipse cx="375.4" cy="258.0" rx="4.3" ry="5.7"/><ellipse cx="370.4" cy="263.0" rx="4.3" ry="5.7"/><ellipse cx="362.9" cy="260.5" rx="4.3" ry="5.7"/><ellipse cx="355.4" cy="255.5" rx="4.3" ry="5.7"/><ellipse cx="350.4" cy="253.0" rx="4.3" ry="5.7"/><ellipse cx="342.9" cy="258.0" rx="4.3" ry="5.7"/><ellipse cx="329.1" cy="265.5" rx="4.3" ry="5.7"/><ellipse cx="305.4" cy="274.2" rx="4.3" ry="5.7"/><ellipse cx="294.1" cy="283.5" rx="4.3" ry="5.7"/><ellipse cx="285.4" cy="293.0" rx="4.3" ry="5.7"/><ellipse cx="280.4" cy="295.5" rx="4.3" ry="5.7"/><ellipse cx="315.4" cy="273.0" rx="4.3" ry="5.7"/><ellipse cx="321.6" cy="270.5" rx="4.3" ry="5.7"/><ellipse cx="397.9" cy="279.2" rx="4.3" ry="5.7"/><ellipse cx="402.9" cy="282.2" rx="4.3" ry="5.7"/><ellipse cx="392.9" cy="285.5" rx="4.3" ry="5.7"/><ellipse cx="387.9" cy="291.8" rx="4.3" ry="5.7"/><ellipse cx="447.9" cy="283.0" rx="4.3" ry="5.7"/><ellipse cx="451.6" cy="291.8" rx="4.3" ry="5.7"/><ellipse cx="414.1" cy="179.2" rx="4.3" ry="5.7"/><ellipse cx="424.6" cy="303.0" rx="4.3" ry="5.7"/><ellipse cx="416.1" cy="311.8" rx="4.3" ry="5.7"/><ellipse cx="478.6" cy="116.0" rx="4.3" ry="5.7"/><ellipse cx="441.6" cy="143.8" rx="4.3" ry="5.7"/><ellipse cx="446.6" cy="164.2" rx="4.3" ry="5.7"/><ellipse cx="441.6" cy="168.5" rx="4.3" ry="5.7"/><ellipse cx="413.4" cy="165.5" rx="4.3" ry="5.7"/><ellipse cx="385.4" cy="226.8" rx="4.3" ry="5.7"/><ellipse cx="416.6" cy="205.5" rx="4.3" ry="5.7"/><ellipse cx="415.4" cy="220.5" rx="4.3" ry="5.7"/><ellipse cx="409.1" cy="225.5" rx="4.3" ry="5.7"/><ellipse cx="377.9" cy="245.5" rx="4.3" ry="5.7"/><ellipse cx="385.4" cy="240.5" rx="4.3" ry="5.7"/><ellipse cx="387.9" cy="246.8" rx="4.3" ry="5.7"/><ellipse cx="359.1" cy="221.1" rx="4.3" ry="5.7"/><ellipse cx="395.4" cy="223.0" rx="4.3" ry="5.7"/><ellipse cx="396.6" cy="230.5" rx="4.3" ry="5.7"/><ellipse cx="382.9" cy="245.5" rx="4.3" ry="5.7"/><ellipse cx="447.2" cy="280.5" rx="4.3" ry="5.7"/><ellipse cx="371.6" cy="255.5" rx="4.3" ry="5.7"/><ellipse cx="387.9" cy="241.8" rx="4.3" ry="5.7"/><ellipse cx="400.4" cy="245.5" rx="4.3" ry="5.7"/><ellipse cx="399.1" cy="259.2" rx="4.3" ry="5.7"/><ellipse cx="372.9" cy="298.0" rx="4.3" ry="5.7"/><ellipse cx="377.9" cy="303.0" rx="4.3" ry="5.7"/><ellipse cx="381.6" cy="298.0" rx="4.3" ry="5.7"/><ellipse cx="389.1" cy="309.2" rx="4.3" ry="5.7"/><ellipse cx="384.1" cy="309.2" rx="4.3" ry="5.7"/><ellipse cx="377.9" cy="311.8" rx="4.3" ry="5.7"/><ellipse cx="371.6" cy="314.2" rx="4.3" ry="5.7"/><ellipse cx="380.4" cy="318.0" rx="4.3" ry="5.7"/><ellipse cx="383.5" cy="323.6" rx="4.3" ry="5.7"/><ellipse cx="389.1" cy="314.2" rx="4.3" ry="5.7"/><ellipse cx="369.1" cy="319.2" rx="4.3" ry="5.7"/><ellipse cx="366.6" cy="325.5" rx="4.3" ry="5.7"/><ellipse cx="365.4" cy="331.8" rx="4.3" ry="5.7"/><ellipse cx="362.9" cy="335.5" rx="4.3" ry="5.7"/><ellipse cx="367.9" cy="333.0" rx="4.3" ry="5.7"/><ellipse cx="392.9" cy="304.2" rx="4.3" ry="5.7"/><ellipse cx="414.2" cy="179.0" rx="4.3" ry="5.7"/><ellipse cx="407.4" cy="270.0" rx="4.3" ry="5.7"/></g>
<path d="M285.5,323.4 q1.7,0 1.7,2.1 v3 q0,2 2.2,2.2 q-2.2,0.2 -2.2,2.2 v3.4 q0,2.2 -1.7,2.2" fill="none" stroke="#f3a11e" stroke-width="1.35" stroke-linejoin="round" stroke-linecap="round"/>
<g fill="#6794d2" fill-opacity="0.85">
<ellipse cx="689.1" cy="170.5" rx="4.3" ry="5.7"/><ellipse cx="696.6" cy="179.2" rx="4.3" ry="5.7"/><ellipse cx="702.9" cy="179.2" rx="4.3" ry="5.7"/><ellipse cx="707.9" cy="175.5" rx="4.3" ry="5.7"/><ellipse cx="710.4" cy="181.8" rx="4.3" ry="5.7"/><ellipse cx="716.6" cy="186.8" rx="4.3" ry="5.7"/><ellipse cx="725.4" cy="181.8" rx="4.3" ry="5.7"/><ellipse cx="732.9" cy="186.8" rx="4.3" ry="5.7"/><ellipse cx="742.9" cy="177.5" rx="4.3" ry="5.7"/><ellipse cx="752.9" cy="178.0" rx="4.3" ry="5.7"/><ellipse cx="759.1" cy="173.0" rx="4.3" ry="5.7"/><ellipse cx="751.6" cy="188.0" rx="4.3" ry="5.7"/><ellipse cx="757.9" cy="190.5" rx="4.3" ry="5.7"/><ellipse cx="765.4" cy="184.2" rx="4.3" ry="5.7"/><ellipse cx="767.9" cy="186.8" rx="4.3" ry="5.7"/><ellipse cx="771.6" cy="194.2" rx="4.3" ry="5.7"/><ellipse cx="782.9" cy="170.5" rx="4.3" ry="5.7"/><ellipse cx="790.4" cy="171.8" rx="4.3" ry="5.7"/><ellipse cx="794.1" cy="175.5" rx="4.3" ry="5.7"/><ellipse cx="795.4" cy="185.5" rx="4.3" ry="5.7"/><ellipse cx="800.4" cy="173.0" rx="4.3" ry="5.7"/><ellipse cx="804.1" cy="175.5" rx="4.3" ry="5.7"/><ellipse cx="807.9" cy="173.0" rx="4.3" ry="5.7"/><ellipse cx="811.6" cy="181.8" rx="4.3" ry="5.7"/><ellipse cx="805.4" cy="188.0" rx="4.3" ry="5.7"/><ellipse cx="820.4" cy="175.5" rx="4.3" ry="5.7"/><ellipse cx="824.1" cy="179.2" rx="4.3" ry="5.7"/><ellipse cx="830.4" cy="173.0" rx="4.3" ry="5.7"/><ellipse cx="835.4" cy="180.5" rx="4.3" ry="5.7"/><ellipse cx="846.6" cy="174.2" rx="4.3" ry="5.7"/><ellipse cx="849.1" cy="183.0" rx="4.3" ry="5.7"/><ellipse cx="670.4" cy="190.5" rx="4.3" ry="5.7"/><ellipse cx="680.4" cy="193.0" rx="4.3" ry="5.7"/><ellipse cx="685.9" cy="196.8" rx="4.3" ry="5.7"/><ellipse cx="676.6" cy="201.8" rx="4.3" ry="5.7"/><ellipse cx="706.1" cy="192.5" rx="4.3" ry="5.7"/><ellipse cx="723.6" cy="198.0" rx="4.3" ry="5.7"/><ellipse cx="722.9" cy="204.2" rx="4.3" ry="5.7"/><ellipse cx="734.1" cy="195.5" rx="4.3" ry="5.7"/><ellipse cx="740.4" cy="194.2" rx="4.3" ry="5.7"/><ellipse cx="745.4" cy="193.0" rx="4.3" ry="5.7"/><ellipse cx="749.1" cy="196.8" rx="4.3" ry="5.7"/><ellipse cx="764.1" cy="199.2" rx="4.3" ry="5.7"/><ellipse cx="777.9" cy="195.5" rx="4.3" ry="5.7"/><ellipse cx="785.4" cy="201.8" rx="4.3" ry="5.7"/><ellipse cx="792.9" cy="198.0" rx="4.3" ry="5.7"/><ellipse cx="801.6" cy="200.5" rx="4.3" ry="5.7"/><ellipse cx="797.9" cy="188.0" rx="4.3" ry="5.7"/><ellipse cx="817.9" cy="189.2" rx="4.3" ry="5.7"/><ellipse cx="820.4" cy="194.2" rx="4.3" ry="5.7"/><ellipse cx="827.9" cy="194.2" rx="4.3" ry="5.7"/><ellipse cx="834.1" cy="200.5" rx="4.3" ry="5.7"/><ellipse cx="843.4" cy="196.8" rx="4.3" ry="5.7"/><ellipse cx="854.1" cy="191.8" rx="4.3" ry="5.7"/><ellipse cx="647.9" cy="213.0" rx="4.3" ry="5.7"/><ellipse cx="649.9" cy="220.0" rx="4.3" ry="5.7"/><ellipse cx="691.6" cy="206.8" rx="4.3" ry="5.7"/><ellipse cx="688.4" cy="214.2" rx="4.3" ry="5.7"/><ellipse cx="702.4" cy="211.8" rx="4.3" ry="5.7"/><ellipse cx="730.4" cy="205.5" rx="4.3" ry="5.7"/><ellipse cx="736.6" cy="211.8" rx="4.3" ry="5.7"/><ellipse cx="739.1" cy="214.2" rx="4.3" ry="5.7"/><ellipse cx="727.9" cy="214.2" rx="4.3" ry="5.7"/><ellipse cx="750.4" cy="213.0" rx="4.3" ry="5.7"/><ellipse cx="754.1" cy="215.5" rx="4.3" ry="5.7"/><ellipse cx="757.9" cy="205.5" rx="4.3" ry="5.7"/><ellipse cx="770.4" cy="210.5" rx="4.3" ry="5.7"/><ellipse cx="775.4" cy="209.2" rx="4.3" ry="5.7"/><ellipse cx="786.6" cy="208.0" rx="4.3" ry="5.7"/><ellipse cx="795.4" cy="214.2" rx="4.3" ry="5.7"/><ellipse cx="802.9" cy="210.5" rx="4.3" ry="5.7"/><ellipse cx="806.6" cy="216.8" rx="4.3" ry="5.7"/><ellipse cx="809.1" cy="215.5" rx="4.3" ry="5.7"/><ellipse cx="815.4" cy="206.8" rx="4.3" ry="5.7"/><ellipse cx="820.4" cy="204.2" rx="4.3" ry="5.7"/><ellipse cx="824.1" cy="203.0" rx="4.3" ry="5.7"/><ellipse cx="830.4" cy="210.5" rx="4.3" ry="5.7"/><ellipse cx="836.6" cy="209.2" rx="4.3" ry="5.7"/><ellipse cx="839.1" cy="215.5" rx="4.3" ry="5.7"/><ellipse cx="847.9" cy="218.0" rx="4.3" ry="5.7"/><ellipse cx="855.4" cy="209.2" rx="4.3" ry="5.7"/><ellipse cx="675.4" cy="218.0" rx="4.3" ry="5.7"/><ellipse cx="697.4" cy="223.5" rx="4.3" ry="5.7"/><ellipse cx="677.9" cy="231.2" rx="4.3" ry="5.7"/><ellipse cx="709.1" cy="221.8" rx="4.3" ry="5.7"/><ellipse cx="711.6" cy="226.8" rx="4.3" ry="5.7"/><ellipse cx="721.6" cy="218.0" rx="4.3" ry="5.7"/><ellipse cx="722.9" cy="225.5" rx="4.3" ry="5.7"/><ellipse cx="724.1" cy="229.2" rx="4.3" ry="5.7"/><ellipse cx="732.9" cy="216.8" rx="4.3" ry="5.7"/><ellipse cx="735.4" cy="223.0" rx="4.3" ry="5.7"/><ellipse cx="737.9" cy="231.8" rx="4.3" ry="5.7"/><ellipse cx="750.4" cy="223.0" rx="4.3" ry="5.7"/><ellipse cx="756.6" cy="229.2" rx="4.3" ry="5.7"/><ellipse cx="760.4" cy="221.8" rx="4.3" ry="5.7"/><ellipse cx="772.9" cy="221.8" rx="4.3" ry="5.7"/><ellipse cx="772.9" cy="226.8" rx="4.3" ry="5.7"/><ellipse cx="785.4" cy="220.5" rx="4.3" ry="5.7"/><ellipse cx="784.1" cy="228.0" rx="4.3" ry="5.7"/><ellipse cx="795.4" cy="223.0" rx="4.3" ry="5.7"/><ellipse cx="799.1" cy="230.5" rx="4.3" ry="5.7"/><ellipse cx="797.9" cy="219.2" rx="4.3" ry="5.7"/><ellipse cx="812.9" cy="228.0" rx="4.3" ry="5.7"/><ellipse cx="820.4" cy="234.2" rx="4.3" ry="5.7"/><ellipse cx="827.9" cy="223.0" rx="4.3" ry="5.7"/><ellipse cx="834.1" cy="230.5" rx="4.3" ry="5.7"/><ellipse cx="847.9" cy="230.5" rx="4.3" ry="5.7"/><ellipse cx="854.1" cy="228.0" rx="4.3" ry="5.7"/><ellipse cx="632.9" cy="243.5" rx="4.3" ry="5.7"/><ellipse cx="645.4" cy="241.8" rx="4.3" ry="5.7"/><ellipse cx="661.6" cy="242.5" rx="4.3" ry="5.7"/><ellipse cx="684.1" cy="244.2" rx="4.3" ry="5.7"/><ellipse cx="700.4" cy="240.5" rx="4.3" ry="5.7"/><ellipse cx="695.4" cy="246.8" rx="4.3" ry="5.7"/><ellipse cx="712.9" cy="236.8" rx="4.3" ry="5.7"/><ellipse cx="717.9" cy="234.2" rx="4.3" ry="5.7"/><ellipse cx="721.6" cy="235.5" rx="4.3" ry="5.7"/><ellipse cx="725.4" cy="239.2" rx="4.3" ry="5.7"/><ellipse cx="722.9" cy="243.0" rx="4.3" ry="5.7"/><ellipse cx="739.1" cy="234.2" rx="4.3" ry="5.7"/><ellipse cx="740.4" cy="236.8" rx="4.3" ry="5.7"/><ellipse cx="756.6" cy="241.8" rx="4.3" ry="5.7"/><ellipse cx="759.1" cy="236.8" rx="4.3" ry="5.7"/><ellipse cx="769.1" cy="244.2" rx="4.3" ry="5.7"/><ellipse cx="775.4" cy="238.0" rx="4.3" ry="5.7"/><ellipse cx="785.4" cy="243.0" rx="4.3" ry="5.7"/><ellipse cx="792.9" cy="238.0" rx="4.3" ry="5.7"/><ellipse cx="797.9" cy="244.8" rx="4.3" ry="5.7"/><ellipse cx="786.6" cy="235.5" rx="4.3" ry="5.7"/><ellipse cx="811.6" cy="235.5" rx="4.3" ry="5.7"/><ellipse cx="832.9" cy="239.2" rx="4.3" ry="5.7"/><ellipse cx="840.4" cy="236.8" rx="4.3" ry="5.7"/><ellipse cx="849.1" cy="240.5" rx="4.3" ry="5.7"/><ellipse cx="645.4" cy="253.0" rx="4.3" ry="5.7"/><ellipse cx="650.4" cy="255.5" rx="4.3" ry="5.7"/><ellipse cx="656.6" cy="254.2" rx="4.3" ry="5.7"/><ellipse cx="669.1" cy="253.0" rx="4.3" ry="5.7"/><ellipse cx="670.4" cy="258.0" rx="4.3" ry="5.7"/><ellipse cx="674.1" cy="256.8" rx="4.3" ry="5.7"/><ellipse cx="679.1" cy="254.2" rx="4.3" ry="5.7"/><ellipse cx="689.1" cy="260.5" rx="4.3" ry="5.7"/><ellipse cx="692.9" cy="251.8" rx="4.3" ry="5.7"/><ellipse cx="715.4" cy="249.2" rx="4.3" ry="5.7"/><ellipse cx="716.6" cy="255.5" rx="4.3" ry="5.7"/><ellipse cx="722.9" cy="255.5" rx="4.3" ry="5.7"/><ellipse cx="732.9" cy="255.5" rx="4.3" ry="5.7"/><ellipse cx="734.1" cy="261.8" rx="4.3" ry="5.7"/><ellipse cx="741.6" cy="259.2" rx="4.3" ry="5.7"/><ellipse cx="769.1" cy="258.0" rx="4.3" ry="5.7"/><ellipse cx="771.6" cy="263.0" rx="4.3" ry="5.7"/><ellipse cx="776.6" cy="250.5" rx="4.3" ry="5.7"/><ellipse cx="774.1" cy="261.8" rx="4.3" ry="5.7"/><ellipse cx="790.4" cy="260.5" rx="4.3" ry="5.7"/><ellipse cx="800.4" cy="259.2" rx="4.3" ry="5.7"/><ellipse cx="805.4" cy="260.5" rx="4.3" ry="5.7"/><ellipse cx="812.9" cy="263.0" rx="4.3" ry="5.7"/><ellipse cx="824.1" cy="258.0" rx="4.3" ry="5.7"/><ellipse cx="826.6" cy="250.5" rx="4.3" ry="5.7"/><ellipse cx="835.4" cy="246.8" rx="4.3" ry="5.7"/><ellipse cx="846.6" cy="248.0" rx="4.3" ry="5.7"/><ellipse cx="851.6" cy="248.0" rx="4.3" ry="5.7"/><ellipse cx="636.6" cy="270.5" rx="4.3" ry="5.7"/><ellipse cx="635.9" cy="273.0" rx="4.3" ry="5.7"/><ellipse cx="654.1" cy="265.5" rx="4.3" ry="5.7"/><ellipse cx="660.4" cy="266.8" rx="4.3" ry="5.7"/><ellipse cx="652.9" cy="276.8" rx="4.3" ry="5.7"/><ellipse cx="662.9" cy="275.5" rx="4.3" ry="5.7"/><ellipse cx="690.4" cy="269.2" rx="4.3" ry="5.7"/><ellipse cx="697.9" cy="265.5" rx="4.3" ry="5.7"/><ellipse cx="702.9" cy="269.2" rx="4.3" ry="5.7"/><ellipse cx="710.4" cy="269.2" rx="4.3" ry="5.7"/><ellipse cx="719.1" cy="265.5" rx="4.3" ry="5.7"/><ellipse cx="719.1" cy="273.0" rx="4.3" ry="5.7"/><ellipse cx="725.4" cy="269.2" rx="4.3" ry="5.7"/><ellipse cx="729.1" cy="274.2" rx="4.3" ry="5.7"/><ellipse cx="745.4" cy="271.8" rx="4.3" ry="5.7"/><ellipse cx="749.1" cy="273.0" rx="4.3" ry="5.7"/><ellipse cx="752.9" cy="273.0" rx="4.3" ry="5.7"/><ellipse cx="760.4" cy="268.0" rx="4.3" ry="5.7"/><ellipse cx="767.9" cy="270.5" rx="4.3" ry="5.7"/><ellipse cx="772.9" cy="265.5" rx="4.3" ry="5.7"/><ellipse cx="812.9" cy="266.8" rx="4.3" ry="5.7"/><ellipse cx="820.4" cy="275.5" rx="4.3" ry="5.7"/><ellipse cx="825.4" cy="274.2" rx="4.3" ry="5.7"/><ellipse cx="841.6" cy="279.2" rx="4.3" ry="5.7"/><ellipse cx="845.4" cy="274.2" rx="4.3" ry="5.7"/><ellipse cx="851.6" cy="265.5" rx="4.3" ry="5.7"/><ellipse cx="615.4" cy="291.8" rx="4.3" ry="5.7"/><ellipse cx="622.9" cy="289.2" rx="4.3" ry="5.7"/><ellipse cx="629.1" cy="290.5" rx="4.3" ry="5.7"/><ellipse cx="635.4" cy="285.5" rx="4.3" ry="5.7"/><ellipse cx="641.6" cy="294.2" rx="4.3" ry="5.7"/><ellipse cx="654.1" cy="293.0" rx="4.3" ry="5.7"/><ellipse cx="657.9" cy="293.0" rx="4.3" ry="5.7"/><ellipse cx="662.9" cy="281.8" rx="4.3" ry="5.7"/><ellipse cx="666.6" cy="284.2" rx="4.3" ry="5.7"/><ellipse cx="672.9" cy="288.0" rx="4.3" ry="5.7"/><ellipse cx="680.4" cy="283.0" rx="4.3" ry="5.7"/><ellipse cx="684.1" cy="286.8" rx="4.3" ry="5.7"/><ellipse cx="687.9" cy="280.5" rx="4.3" ry="5.7"/><ellipse cx="692.9" cy="278.0" rx="4.3" ry="5.7"/><ellipse cx="696.6" cy="293.0" rx="4.3" ry="5.7"/><ellipse cx="700.4" cy="276.8" rx="4.3" ry="5.7"/><ellipse cx="710.4" cy="281.8" rx="4.3" ry="5.7"/><ellipse cx="709.1" cy="284.2" rx="4.3" ry="5.7"/><ellipse cx="720.4" cy="278.0" rx="4.3" ry="5.7"/><ellipse cx="729.1" cy="283.0" rx="4.3" ry="5.7"/><ellipse cx="732.9" cy="278.0" rx="4.3" ry="5.7"/><ellipse cx="740.4" cy="291.8" rx="4.3" ry="5.7"/><ellipse cx="745.4" cy="288.0" rx="4.3" ry="5.7"/><ellipse cx="752.9" cy="289.2" rx="4.3" ry="5.7"/><ellipse cx="761.6" cy="286.8" rx="4.3" ry="5.7"/><ellipse cx="762.9" cy="293.0" rx="4.3" ry="5.7"/><ellipse cx="772.9" cy="281.8" rx="4.3" ry="5.7"/><ellipse cx="775.4" cy="283.0" rx="4.3" ry="5.7"/><ellipse cx="780.4" cy="286.8" rx="4.3" ry="5.7"/><ellipse cx="786.6" cy="284.2" rx="4.3" ry="5.7"/><ellipse cx="791.6" cy="285.5" rx="4.3" ry="5.7"/><ellipse cx="796.6" cy="293.0" rx="4.3" ry="5.7"/><ellipse cx="817.9" cy="293.0" rx="4.3" ry="5.7"/><ellipse cx="849.1" cy="284.2" rx="4.3" ry="5.7"/><ellipse cx="852.9" cy="289.2" rx="4.3" ry="5.7"/><ellipse cx="609.1" cy="307.8" rx="4.3" ry="5.7"/><ellipse cx="626.6" cy="305.2" rx="4.3" ry="5.7"/><ellipse cx="641.6" cy="299.0" rx="4.3" ry="5.7"/><ellipse cx="643.4" cy="305.2" rx="4.3" ry="5.7"/><ellipse cx="645.4" cy="311.5" rx="4.3" ry="5.7"/><ellipse cx="654.1" cy="296.5" rx="4.3" ry="5.7"/><ellipse cx="660.4" cy="300.2" rx="4.3" ry="5.7"/><ellipse cx="664.1" cy="307.8" rx="4.3" ry="5.7"/><ellipse cx="667.9" cy="307.8" rx="4.3" ry="5.7"/><ellipse cx="672.9" cy="304.0" rx="4.3" ry="5.7"/><ellipse cx="675.4" cy="310.2" rx="4.3" ry="5.7"/><ellipse cx="677.9" cy="302.8" rx="4.3" ry="5.7"/><ellipse cx="680.4" cy="310.2" rx="4.3" ry="5.7"/><ellipse cx="686.6" cy="299.0" rx="4.3" ry="5.7"/><ellipse cx="690.4" cy="300.2" rx="4.3" ry="5.7"/><ellipse cx="694.1" cy="302.8" rx="4.3" ry="5.7"/><ellipse cx="697.9" cy="301.5" rx="4.3" ry="5.7"/><ellipse cx="699.1" cy="307.8" rx="4.3" ry="5.7"/><ellipse cx="716.6" cy="305.2" rx="4.3" ry="5.7"/><ellipse cx="721.6" cy="306.5" rx="4.3" ry="5.7"/><ellipse cx="726.6" cy="309.0" rx="4.3" ry="5.7"/><ellipse cx="730.4" cy="297.8" rx="4.3" ry="5.7"/><ellipse cx="742.9" cy="302.8" rx="4.3" ry="5.7"/><ellipse cx="744.1" cy="309.0" rx="4.3" ry="5.7"/><ellipse cx="746.6" cy="307.8" rx="4.3" ry="5.7"/><ellipse cx="755.4" cy="299.0" rx="4.3" ry="5.7"/><ellipse cx="760.4" cy="309.0" rx="4.3" ry="5.7"/><ellipse cx="766.6" cy="306.5" rx="4.3" ry="5.7"/><ellipse cx="775.4" cy="299.0" rx="4.3" ry="5.7"/><ellipse cx="779.1" cy="300.2" rx="4.3" ry="5.7"/><ellipse cx="782.9" cy="299.0" rx="4.3" ry="5.7"/><ellipse cx="792.9" cy="299.0" rx="4.3" ry="5.7"/><ellipse cx="795.4" cy="296.5" rx="4.3" ry="5.7"/><ellipse cx="812.9" cy="301.5" rx="4.3" ry="5.7"/><ellipse cx="815.4" cy="302.8" rx="4.3" ry="5.7"/><ellipse cx="820.4" cy="304.0" rx="4.3" ry="5.7"/><ellipse cx="835.4" cy="310.2" rx="4.3" ry="5.7"/><ellipse cx="842.9" cy="299.0" rx="4.3" ry="5.7"/><ellipse cx="852.9" cy="296.5" rx="4.3" ry="5.7"/><ellipse cx="616.6" cy="321.5" rx="4.3" ry="5.7"/><ellipse cx="617.9" cy="317.8" rx="4.3" ry="5.7"/><ellipse cx="626.6" cy="315.2" rx="4.3" ry="5.7"/><ellipse cx="634.1" cy="321.5" rx="4.3" ry="5.7"/><ellipse cx="637.9" cy="324.0" rx="4.3" ry="5.7"/><ellipse cx="640.4" cy="326.5" rx="4.3" ry="5.7"/><ellipse cx="657.9" cy="315.2" rx="4.3" ry="5.7"/><ellipse cx="655.4" cy="326.5" rx="4.3" ry="5.7"/><ellipse cx="660.4" cy="325.2" rx="4.3" ry="5.7"/><ellipse cx="669.1" cy="320.2" rx="4.3" ry="5.7"/><ellipse cx="679.1" cy="320.2" rx="4.3" ry="5.7"/><ellipse cx="686.6" cy="324.0" rx="4.3" ry="5.7"/><ellipse cx="687.9" cy="315.2" rx="4.3" ry="5.7"/><ellipse cx="702.9" cy="319.0" rx="4.3" ry="5.7"/><ellipse cx="705.4" cy="314.0" rx="4.3" ry="5.7"/><ellipse cx="706.6" cy="321.5" rx="4.3" ry="5.7"/><ellipse cx="712.9" cy="319.0" rx="4.3" ry="5.7"/><ellipse cx="716.6" cy="316.5" rx="4.3" ry="5.7"/><ellipse cx="722.9" cy="315.2" rx="4.3" ry="5.7"/><ellipse cx="730.4" cy="321.5" rx="4.3" ry="5.7"/><ellipse cx="735.4" cy="324.0" rx="4.3" ry="5.7"/><ellipse cx="737.9" cy="316.5" rx="4.3" ry="5.7"/><ellipse cx="745.4" cy="322.8" rx="4.3" ry="5.7"/><ellipse cx="765.4" cy="316.5" rx="4.3" ry="5.7"/><ellipse cx="766.6" cy="322.8" rx="4.3" ry="5.7"/><ellipse cx="772.9" cy="321.5" rx="4.3" ry="5.7"/><ellipse cx="785.4" cy="312.8" rx="4.3" ry="5.7"/><ellipse cx="790.4" cy="314.0" rx="4.3" ry="5.7"/><ellipse cx="792.9" cy="315.2" rx="4.3" ry="5.7"/><ellipse cx="810.4" cy="315.2" rx="4.3" ry="5.7"/><ellipse cx="811.6" cy="321.5" rx="4.3" ry="5.7"/><ellipse cx="816.6" cy="319.0" rx="4.3" ry="5.7"/><ellipse cx="809.1" cy="327.8" rx="4.3" ry="5.7"/><ellipse cx="814.1" cy="330.2" rx="4.3" ry="5.7"/><ellipse cx="822.9" cy="327.8" rx="4.3" ry="5.7"/><ellipse cx="615.4" cy="335.2" rx="4.3" ry="5.7"/><ellipse cx="624.1" cy="332.8" rx="4.3" ry="5.7"/><ellipse cx="640.4" cy="336.5" rx="4.3" ry="5.7"/><ellipse cx="647.9" cy="334.0" rx="4.3" ry="5.7"/><ellipse cx="651.6" cy="331.5" rx="4.3" ry="5.7"/><ellipse cx="654.1" cy="336.5" rx="4.3" ry="5.7"/><ellipse cx="657.9" cy="329.0" rx="4.3" ry="5.7"/><ellipse cx="662.9" cy="339.0" rx="4.3" ry="5.7"/><ellipse cx="667.9" cy="337.8" rx="4.3" ry="5.7"/><ellipse cx="672.9" cy="336.5" rx="4.3" ry="5.7"/><ellipse cx="692.9" cy="332.8" rx="4.3" ry="5.7"/><ellipse cx="694.1" cy="336.5" rx="4.3" ry="5.7"/><ellipse cx="700.4" cy="329.0" rx="4.3" ry="5.7"/><ellipse cx="702.9" cy="327.8" rx="4.3" ry="5.7"/><ellipse cx="714.1" cy="330.2" rx="4.3" ry="5.7"/><ellipse cx="725.4" cy="332.8" rx="4.3" ry="5.7"/><ellipse cx="727.9" cy="336.5" rx="4.3" ry="5.7"/><ellipse cx="735.4" cy="330.2" rx="4.3" ry="5.7"/><ellipse cx="752.9" cy="330.2" rx="4.3" ry="5.7"/><ellipse cx="747.9" cy="342.8" rx="4.3" ry="5.7"/><ellipse cx="750.4" cy="341.5" rx="4.3" ry="5.7"/><ellipse cx="761.6" cy="341.5" rx="4.3" ry="5.7"/><ellipse cx="769.1" cy="341.5" rx="4.3" ry="5.7"/><ellipse cx="772.9" cy="330.2" rx="4.3" ry="5.7"/><ellipse cx="780.4" cy="339.0" rx="4.3" ry="5.7"/><ellipse cx="795.4" cy="334.0" rx="4.3" ry="5.7"/><ellipse cx="826.6" cy="335.2" rx="4.3" ry="5.7"/><ellipse cx="839.1" cy="332.8" rx="4.3" ry="5.7"/><ellipse cx="841.6" cy="335.2" rx="4.3" ry="5.7"/><ellipse cx="610.4" cy="349.0" rx="4.3" ry="5.7"/><ellipse cx="612.9" cy="344.0" rx="4.3" ry="5.7"/><ellipse cx="621.6" cy="344.0" rx="4.3" ry="5.7"/><ellipse cx="624.1" cy="349.0" rx="4.3" ry="5.7"/><ellipse cx="631.6" cy="355.2" rx="4.3" ry="5.7"/><ellipse cx="636.6" cy="351.5" rx="4.3" ry="5.7"/><ellipse cx="639.1" cy="341.5" rx="4.3" ry="5.7"/><ellipse cx="641.6" cy="345.2" rx="4.3" ry="5.7"/><ellipse cx="649.1" cy="342.8" rx="4.3" ry="5.7"/><ellipse cx="654.1" cy="347.8" rx="4.3" ry="5.7"/><ellipse cx="659.1" cy="344.0" rx="4.3" ry="5.7"/><ellipse cx="661.6" cy="354.0" rx="4.3" ry="5.7"/><ellipse cx="666.6" cy="346.5" rx="4.3" ry="5.7"/><ellipse cx="667.9" cy="350.2" rx="4.3" ry="5.7"/><ellipse cx="680.4" cy="347.8" rx="4.3" ry="5.7"/><ellipse cx="681.6" cy="342.8" rx="4.3" ry="5.7"/><ellipse cx="684.1" cy="346.5" rx="4.3" ry="5.7"/><ellipse cx="686.6" cy="344.0" rx="4.3" ry="5.7"/><ellipse cx="682.9" cy="356.5" rx="4.3" ry="5.7"/><ellipse cx="704.1" cy="341.5" rx="4.3" ry="5.7"/><ellipse cx="705.4" cy="347.8" rx="4.3" ry="5.7"/><ellipse cx="712.9" cy="345.2" rx="4.3" ry="5.7"/><ellipse cx="714.1" cy="349.0" rx="4.3" ry="5.7"/><ellipse cx="702.9" cy="355.2" rx="4.3" ry="5.7"/><ellipse cx="754.1" cy="355.2" rx="4.3" ry="5.7"/><ellipse cx="756.6" cy="352.8" rx="4.3" ry="5.7"/><ellipse cx="762.9" cy="356.5" rx="4.3" ry="5.7"/><ellipse cx="789.1" cy="350.2" rx="4.3" ry="5.7"/><ellipse cx="836.6" cy="350.2" rx="4.3" ry="5.7"/><ellipse cx="840.4" cy="345.2" rx="4.3" ry="5.7"/><ellipse cx="846.6" cy="351.5" rx="4.3" ry="5.7"/><ellipse cx="851.6" cy="352.8" rx="4.3" ry="5.7"/><ellipse cx="606.6" cy="367.8" rx="4.3" ry="5.7"/><ellipse cx="611.6" cy="367.8" rx="4.3" ry="5.7"/><ellipse cx="615.4" cy="361.5" rx="4.3" ry="5.7"/><ellipse cx="619.1" cy="359.0" rx="4.3" ry="5.7"/><ellipse cx="625.4" cy="365.2" rx="4.3" ry="5.7"/><ellipse cx="626.6" cy="369.0" rx="4.3" ry="5.7"/><ellipse cx="629.1" cy="364.0" rx="4.3" ry="5.7"/><ellipse cx="637.9" cy="359.0" rx="4.3" ry="5.7"/><ellipse cx="641.6" cy="364.0" rx="4.3" ry="5.7"/><ellipse cx="646.6" cy="362.8" rx="4.3" ry="5.7"/><ellipse cx="651.6" cy="356.5" rx="4.3" ry="5.7"/><ellipse cx="654.1" cy="357.8" rx="4.3" ry="5.7"/><ellipse cx="666.6" cy="365.2" rx="4.3" ry="5.7"/><ellipse cx="667.9" cy="369.0" rx="4.3" ry="5.7"/><ellipse cx="675.4" cy="359.0" rx="4.3" ry="5.7"/><ellipse cx="680.4" cy="360.2" rx="4.3" ry="5.7"/><ellipse cx="684.1" cy="361.5" rx="4.3" ry="5.7"/><ellipse cx="709.1" cy="359.0" rx="4.3" ry="5.7"/><ellipse cx="737.9" cy="364.0" rx="4.3" ry="5.7"/><ellipse cx="729.1" cy="370.2" rx="4.3" ry="5.7"/><ellipse cx="751.6" cy="367.8" rx="4.3" ry="5.7"/><ellipse cx="756.6" cy="364.0" rx="4.3" ry="5.7"/><ellipse cx="762.9" cy="370.2" rx="4.3" ry="5.7"/><ellipse cx="765.4" cy="362.8" rx="4.3" ry="5.7"/><ellipse cx="809.1" cy="362.8" rx="4.3" ry="5.7"/><ellipse cx="815.4" cy="369.0" rx="4.3" ry="5.7"/><ellipse cx="817.9" cy="360.2" rx="4.3" ry="5.7"/><ellipse cx="822.9" cy="360.2" rx="4.3" ry="5.7"/><ellipse cx="852.9" cy="369.0" rx="4.3" ry="5.7"/><ellipse cx="609.1" cy="381.5" rx="4.3" ry="5.7"/><ellipse cx="615.4" cy="379.0" rx="4.3" ry="5.7"/><ellipse cx="617.9" cy="385.2" rx="4.3" ry="5.7"/><ellipse cx="631.6" cy="379.0" rx="4.3" ry="5.7"/><ellipse cx="635.4" cy="376.5" rx="4.3" ry="5.7"/><ellipse cx="644.1" cy="371.5" rx="4.3" ry="5.7"/><ellipse cx="652.9" cy="371.5" rx="4.3" ry="5.7"/><ellipse cx="655.4" cy="376.5" rx="4.3" ry="5.7"/><ellipse cx="660.4" cy="385.2" rx="4.3" ry="5.7"/><ellipse cx="667.9" cy="376.5" rx="4.3" ry="5.7"/><ellipse cx="672.9" cy="379.0" rx="4.3" ry="5.7"/><ellipse cx="677.9" cy="379.0" rx="4.3" ry="5.7"/><ellipse cx="682.9" cy="372.8" rx="4.3" ry="5.7"/><ellipse cx="686.6" cy="387.8" rx="4.3" ry="5.7"/><ellipse cx="691.6" cy="379.0" rx="4.3" ry="5.7"/><ellipse cx="699.1" cy="371.5" rx="4.3" ry="5.7"/><ellipse cx="700.4" cy="375.2" rx="4.3" ry="5.7"/><ellipse cx="707.9" cy="381.5" rx="4.3" ry="5.7"/><ellipse cx="712.9" cy="374.0" rx="4.3" ry="5.7"/><ellipse cx="717.9" cy="379.0" rx="4.3" ry="5.7"/><ellipse cx="720.4" cy="375.2" rx="4.3" ry="5.7"/><ellipse cx="740.4" cy="377.8" rx="4.3" ry="5.7"/><ellipse cx="754.1" cy="376.5" rx="4.3" ry="5.7"/><ellipse cx="761.6" cy="382.8" rx="4.3" ry="5.7"/><ellipse cx="790.4" cy="377.8" rx="4.3" ry="5.7"/><ellipse cx="799.1" cy="374.0" rx="4.3" ry="5.7"/><ellipse cx="831.6" cy="376.5" rx="4.3" ry="5.7"/><ellipse cx="836.6" cy="381.5" rx="4.3" ry="5.7"/><ellipse cx="835.4" cy="386.5" rx="4.3" ry="5.7"/><ellipse cx="610.4" cy="391.5" rx="4.3" ry="5.7"/><ellipse cx="615.4" cy="389.0" rx="4.3" ry="5.7"/><ellipse cx="620.4" cy="395.2" rx="4.3" ry="5.7"/><ellipse cx="630.4" cy="389.0" rx="4.3" ry="5.7"/><ellipse cx="632.9" cy="392.8" rx="4.3" ry="5.7"/><ellipse cx="644.1" cy="386.5" rx="4.3" ry="5.7"/><ellipse cx="649.1" cy="392.8" rx="4.3" ry="5.7"/><ellipse cx="651.6" cy="390.2" rx="4.3" ry="5.7"/><ellipse cx="659.1" cy="389.0" rx="4.3" ry="5.7"/><ellipse cx="664.1" cy="394.0" rx="4.3" ry="5.7"/><ellipse cx="687.9" cy="385.2" rx="4.3" ry="5.7"/><ellipse cx="770.4" cy="394.0" rx="4.3" ry="5.7"/><ellipse cx="777.9" cy="390.2" rx="4.3" ry="5.7"/><ellipse cx="780.4" cy="399.0" rx="4.3" ry="5.7"/><ellipse cx="781.6" cy="396.5" rx="4.3" ry="5.7"/><ellipse cx="799.1" cy="399.0" rx="4.3" ry="5.7"/><ellipse cx="807.9" cy="389.0" rx="4.3" ry="5.7"/><ellipse cx="816.6" cy="394.0" rx="4.3" ry="5.7"/><ellipse cx="832.9" cy="386.5" rx="4.3" ry="5.7"/><ellipse cx="851.6" cy="395.2" rx="4.3" ry="5.7"/><ellipse cx="606.6" cy="399.0" rx="4.3" ry="5.7"/><ellipse cx="607.9" cy="404.0" rx="4.3" ry="5.7"/><ellipse cx="611.6" cy="411.5" rx="4.3" ry="5.7"/><ellipse cx="615.4" cy="406.5" rx="4.3" ry="5.7"/><ellipse cx="622.9" cy="404.0" rx="4.3" ry="5.7"/><ellipse cx="625.4" cy="409.0" rx="4.3" ry="5.7"/><ellipse cx="630.4" cy="412.8" rx="4.3" ry="5.7"/><ellipse cx="632.9" cy="406.5" rx="4.3" ry="5.7"/><ellipse cx="641.6" cy="404.0" rx="4.3" ry="5.7"/><ellipse cx="644.1" cy="411.5" rx="4.3" ry="5.7"/><ellipse cx="650.4" cy="411.5" rx="4.3" ry="5.7"/><ellipse cx="651.6" cy="404.0" rx="4.3" ry="5.7"/><ellipse cx="665.4" cy="410.2" rx="4.3" ry="5.7"/><ellipse cx="671.6" cy="407.8" rx="4.3" ry="5.7"/><ellipse cx="674.1" cy="402.8" rx="4.3" ry="5.7"/><ellipse cx="692.9" cy="405.2" rx="4.3" ry="5.7"/><ellipse cx="701.6" cy="406.5" rx="4.3" ry="5.7"/><ellipse cx="707.9" cy="401.5" rx="4.3" ry="5.7"/><ellipse cx="721.6" cy="404.0" rx="4.3" ry="5.7"/><ellipse cx="727.9" cy="401.5" rx="4.3" ry="5.7"/><ellipse cx="736.6" cy="397.8" rx="4.3" ry="5.7"/><ellipse cx="742.9" cy="406.5" rx="4.3" ry="5.7"/><ellipse cx="747.9" cy="396.5" rx="4.3" ry="5.7"/><ellipse cx="750.4" cy="399.0" rx="4.3" ry="5.7"/><ellipse cx="764.1" cy="411.5" rx="4.3" ry="5.7"/><ellipse cx="829.1" cy="402.8" rx="4.3" ry="5.7"/><ellipse cx="839.1" cy="401.5" rx="4.3" ry="5.7"/><ellipse cx="607.9" cy="368.1" rx="4.3" ry="5.7"/><ellipse cx="612.2" cy="367.5" rx="4.3" ry="5.7"/><ellipse cx="617.9" cy="362.5" rx="4.3" ry="5.7"/><ellipse cx="621.6" cy="361.2" rx="4.3" ry="5.7"/><ellipse cx="625.4" cy="366.2" rx="4.3" ry="5.7"/><ellipse cx="629.7" cy="365.0" rx="4.3" ry="5.7"/><ellipse cx="626.6" cy="371.2" rx="4.3" ry="5.7"/><ellipse cx="631.6" cy="363.1" rx="4.3" ry="5.7"/><ellipse cx="637.9" cy="362.5" rx="4.3" ry="5.7"/><ellipse cx="641.6" cy="366.2" rx="4.3" ry="5.7"/><ellipse cx="644.1" cy="370.0" rx="4.3" ry="5.7"/><ellipse cx="647.2" cy="363.8" rx="4.3" ry="5.7"/><ellipse cx="648.5" cy="371.9" rx="4.3" ry="5.7"/><ellipse cx="655.4" cy="372.5" rx="4.3" ry="5.7"/><ellipse cx="654.1" cy="377.5" rx="4.3" ry="5.7"/><ellipse cx="667.9" cy="365.0" rx="4.3" ry="5.7"/><ellipse cx="667.9" cy="368.8" rx="4.3" ry="5.7"/><ellipse cx="609.7" cy="380.0" rx="4.3" ry="5.7"/><ellipse cx="615.4" cy="376.2" rx="4.3" ry="5.7"/><ellipse cx="617.9" cy="382.5" rx="4.3" ry="5.7"/><ellipse cx="620.4" cy="386.2" rx="4.3" ry="5.7"/><ellipse cx="615.4" cy="388.8" rx="4.3" ry="5.7"/><ellipse cx="614.1" cy="392.5" rx="4.3" ry="5.7"/><ellipse cx="619.1" cy="391.2" rx="4.3" ry="5.7"/><ellipse cx="621.6" cy="381.2" rx="4.3" ry="5.7"/><ellipse cx="634.1" cy="377.5" rx="4.3" ry="5.7"/><ellipse cx="631.6" cy="386.2" rx="4.3" ry="5.7"/><ellipse cx="633.5" cy="391.2" rx="4.3" ry="5.7"/><ellipse cx="630.4" cy="395.0" rx="4.3" ry="5.7"/><ellipse cx="635.4" cy="393.8" rx="4.3" ry="5.7"/><ellipse cx="644.1" cy="385.0" rx="4.3" ry="5.7"/><ellipse cx="645.4" cy="390.0" rx="4.3" ry="5.7"/><ellipse cx="642.9" cy="395.0" rx="4.3" ry="5.7"/><ellipse cx="649.1" cy="392.5" rx="4.3" ry="5.7"/><ellipse cx="651.6" cy="395.0" rx="4.3" ry="5.7"/><ellipse cx="647.9" cy="397.5" rx="4.3" ry="5.7"/><ellipse cx="658.5" cy="387.5" rx="4.3" ry="5.7"/><ellipse cx="662.9" cy="382.5" rx="4.3" ry="5.7"/><ellipse cx="664.1" cy="395.0" rx="4.3" ry="5.7"/><ellipse cx="666.6" cy="380.0" rx="4.3" ry="5.7"/><ellipse cx="671.0" cy="379.4" rx="4.3" ry="5.7"/><ellipse cx="607.9" cy="397.5" rx="4.3" ry="5.7"/><ellipse cx="606.6" cy="402.5" rx="4.3" ry="5.7"/><ellipse cx="611.6" cy="401.2" rx="4.3" ry="5.7"/><ellipse cx="610.4" cy="407.5" rx="4.3" ry="5.7"/><ellipse cx="609.1" cy="412.5" rx="4.3" ry="5.7"/><ellipse cx="612.9" cy="415.0" rx="4.3" ry="5.7"/><ellipse cx="616.6" cy="410.0" rx="4.3" ry="5.7"/><ellipse cx="619.1" cy="405.0" rx="4.3" ry="5.7"/><ellipse cx="622.9" cy="400.0" rx="4.3" ry="5.7"/><ellipse cx="625.4" cy="407.5" rx="4.3" ry="5.7"/><ellipse cx="627.9" cy="412.5" rx="4.3" ry="5.7"/><ellipse cx="631.6" cy="415.0" rx="4.3" ry="5.7"/><ellipse cx="630.4" cy="405.0" rx="4.3" ry="5.7"/><ellipse cx="635.4" cy="407.5" rx="4.3" ry="5.7"/><ellipse cx="637.9" cy="402.5" rx="4.3" ry="5.7"/><ellipse cx="640.4" cy="405.0" rx="4.3" ry="5.7"/><ellipse cx="642.9" cy="410.0" rx="4.3" ry="5.7"/><ellipse cx="642.9" cy="413.8" rx="4.3" ry="5.7"/><ellipse cx="649.1" cy="412.5" rx="4.3" ry="5.7"/><ellipse cx="651.6" cy="405.0" rx="4.3" ry="5.7"/><ellipse cx="665.4" cy="410.0" rx="4.3" ry="5.7"/><ellipse cx="670.4" cy="408.8" rx="4.3" ry="5.7"/><ellipse cx="674.1" cy="402.5" rx="4.3" ry="5.7"/><ellipse cx="611.6" cy="417.5" rx="4.3" ry="5.7"/><ellipse cx="630.4" cy="417.5" rx="4.3" ry="5.7"/><ellipse cx="844.1" cy="82.5" rx="4.3" ry="5.7"/><ellipse cx="826.1" cy="98.2" rx="4.3" ry="5.7"/><ellipse cx="826.6" cy="101.5" rx="4.3" ry="5.7"/><ellipse cx="850.4" cy="105.8" rx="4.3" ry="5.7"/><ellipse cx="851.6" cy="107.0" rx="4.3" ry="5.7"/><ellipse cx="815.4" cy="112.0" rx="4.3" ry="5.7"/><ellipse cx="803.6" cy="108.2" rx="4.3" ry="5.7"/><ellipse cx="802.9" cy="115.8" rx="4.3" ry="5.7"/><ellipse cx="782.9" cy="112.5" rx="4.3" ry="5.7"/><ellipse cx="784.6" cy="120.8" rx="4.3" ry="5.7"/><ellipse cx="758.4" cy="113.8" rx="4.3" ry="5.7"/><ellipse cx="778.4" cy="129.5" rx="4.3" ry="5.7"/><ellipse cx="802.4" cy="125.8" rx="4.3" ry="5.7"/><ellipse cx="801.6" cy="133.2" rx="4.3" ry="5.7"/><ellipse cx="796.6" cy="136.5" rx="4.3" ry="5.7"/><ellipse cx="818.4" cy="132.0" rx="4.3" ry="5.7"/><ellipse cx="834.9" cy="115.2" rx="4.3" ry="5.7"/><ellipse cx="829.9" cy="121.5" rx="4.3" ry="5.7"/><ellipse cx="845.4" cy="115.8" rx="4.3" ry="5.7"/><ellipse cx="846.6" cy="119.5" rx="4.3" ry="5.7"/><ellipse cx="841.6" cy="123.2" rx="4.3" ry="5.7"/><ellipse cx="831.6" cy="129.5" rx="4.3" ry="5.7"/><ellipse cx="832.9" cy="133.2" rx="4.3" ry="5.7"/><ellipse cx="841.6" cy="130.8" rx="4.3" ry="5.7"/><ellipse cx="844.1" cy="135.8" rx="4.3" ry="5.7"/><ellipse cx="851.6" cy="138.2" rx="4.3" ry="5.7"/><ellipse cx="852.9" cy="140.8" rx="4.3" ry="5.7"/><ellipse cx="827.9" cy="139.5" rx="4.3" ry="5.7"/><ellipse cx="826.6" cy="143.2" rx="4.3" ry="5.7"/><ellipse cx="832.9" cy="144.5" rx="4.3" ry="5.7"/><ellipse cx="824.1" cy="150.8" rx="4.3" ry="5.7"/><ellipse cx="830.4" cy="152.0" rx="4.3" ry="5.7"/><ellipse cx="840.4" cy="145.8" rx="4.3" ry="5.7"/><ellipse cx="846.6" cy="150.8" rx="4.3" ry="5.7"/><ellipse cx="820.4" cy="158.2" rx="4.3" ry="5.7"/><ellipse cx="815.9" cy="150.8" rx="4.3" ry="5.7"/><ellipse cx="727.1" cy="134.5" rx="4.3" ry="5.7"/><ellipse cx="749.9" cy="134.5" rx="4.3" ry="5.7"/><ellipse cx="747.9" cy="143.2" rx="4.3" ry="5.7"/><ellipse cx="746.1" cy="148.2" rx="4.3" ry="5.7"/><ellipse cx="765.4" cy="144.0" rx="4.3" ry="5.7"/><ellipse cx="776.1" cy="141.5" rx="4.3" ry="5.7"/><ellipse cx="779.9" cy="142.0" rx="4.3" ry="5.7"/><ellipse cx="789.6" cy="144.0" rx="4.3" ry="5.7"/><ellipse cx="797.4" cy="147.0" rx="4.3" ry="5.7"/><ellipse cx="792.9" cy="153.2" rx="4.3" ry="5.7"/><ellipse cx="781.6" cy="152.0" rx="4.3" ry="5.7"/><ellipse cx="755.4" cy="157.0" rx="4.3" ry="5.7"/><ellipse cx="744.1" cy="160.0" rx="4.3" ry="5.7"/><ellipse cx="763.4" cy="162.5" rx="4.3" ry="5.7"/><ellipse cx="756.6" cy="164.0" rx="4.3" ry="5.7"/><ellipse cx="731.4" cy="163.2" rx="4.3" ry="5.7"/><ellipse cx="704.9" cy="165.0" rx="4.3" ry="5.7"/><ellipse cx="696.6" cy="154.5" rx="4.3" ry="5.7"/><ellipse cx="780.4" cy="160.0" rx="4.3" ry="5.7"/><ellipse cx="787.9" cy="164.0" rx="4.3" ry="5.7"/><ellipse cx="799.1" cy="160.8" rx="4.3" ry="5.7"/><ellipse cx="805.4" cy="158.2" rx="4.3" ry="5.7"/><ellipse cx="809.1" cy="159.5" rx="4.3" ry="5.7"/><ellipse cx="811.6" cy="163.2" rx="4.3" ry="5.7"/><ellipse cx="797.9" cy="168.2" rx="4.3" ry="5.7"/><ellipse cx="802.9" cy="167.0" rx="4.3" ry="5.7"/><ellipse cx="829.1" cy="167.5" rx="4.3" ry="5.7"/><ellipse cx="836.6" cy="166.5" rx="4.3" ry="5.7"/><ellipse cx="854.1" cy="159.5" rx="4.3" ry="5.7"/><ellipse cx="855.4" cy="119.5" rx="4.3" ry="5.7"/><ellipse cx="807.9" cy="154.5" rx="4.3" ry="5.7"/><ellipse cx="759.1" cy="169.0" rx="4.3" ry="5.7"/><ellipse cx="867.1" cy="173.0" rx="4.3" ry="5.7"/><ellipse cx="870.9" cy="171.8" rx="4.3" ry="5.7"/><ellipse cx="874.6" cy="178.0" rx="4.3" ry="5.7"/><ellipse cx="884.6" cy="184.2" rx="4.3" ry="5.7"/><ellipse cx="885.9" cy="175.5" rx="4.3" ry="5.7"/><ellipse cx="889.6" cy="173.0" rx="4.3" ry="5.7"/><ellipse cx="894.6" cy="174.2" rx="4.3" ry="5.7"/><ellipse cx="902.1" cy="173.0" rx="4.3" ry="5.7"/><ellipse cx="908.4" cy="175.5" rx="4.3" ry="5.7"/><ellipse cx="913.4" cy="171.8" rx="4.3" ry="5.7"/><ellipse cx="920.9" cy="170.5" rx="4.3" ry="5.7"/><ellipse cx="904.6" cy="189.2" rx="4.3" ry="5.7"/><ellipse cx="920.9" cy="184.2" rx="4.3" ry="5.7"/><ellipse cx="925.9" cy="180.5" rx="4.3" ry="5.7"/><ellipse cx="928.4" cy="186.8" rx="4.3" ry="5.7"/><ellipse cx="934.6" cy="176.8" rx="4.3" ry="5.7"/><ellipse cx="938.4" cy="180.5" rx="4.3" ry="5.7"/><ellipse cx="955.4" cy="171.8" rx="4.3" ry="5.7"/><ellipse cx="975.1" cy="183.0" rx="4.3" ry="5.7"/><ellipse cx="993.4" cy="186.0" rx="4.3" ry="5.7"/><ellipse cx="966.4" cy="186.8" rx="4.3" ry="5.7"/><ellipse cx="960.9" cy="191.8" rx="4.3" ry="5.7"/><ellipse cx="945.9" cy="191.8" rx="4.3" ry="5.7"/><ellipse cx="952.1" cy="189.2" rx="4.3" ry="5.7"/><ellipse cx="948.4" cy="198.0" rx="4.3" ry="5.7"/><ellipse cx="856.4" cy="200.5" rx="4.3" ry="5.7"/><ellipse cx="875.1" cy="194.2" rx="4.3" ry="5.7"/><ellipse cx="870.4" cy="207.5" rx="4.3" ry="5.7"/><ellipse cx="882.9" cy="200.0" rx="4.3" ry="5.7"/><ellipse cx="890.4" cy="196.8" rx="4.3" ry="5.7"/><ellipse cx="905.4" cy="203.0" rx="4.3" ry="5.7"/><ellipse cx="912.1" cy="206.8" rx="4.3" ry="5.7"/><ellipse cx="912.1" cy="213.0" rx="4.3" ry="5.7"/><ellipse cx="899.6" cy="212.5" rx="4.3" ry="5.7"/><ellipse cx="940.9" cy="209.2" rx="4.3" ry="5.7"/><ellipse cx="945.4" cy="208.0" rx="4.3" ry="5.7"/><ellipse cx="955.4" cy="206.0" rx="4.3" ry="5.7"/><ellipse cx="970.9" cy="201.8" rx="4.3" ry="5.7"/><ellipse cx="979.9" cy="202.0" rx="4.3" ry="5.7"/><ellipse cx="865.4" cy="220.0" rx="4.3" ry="5.7"/><ellipse cx="862.1" cy="231.8" rx="4.3" ry="5.7"/><ellipse cx="882.1" cy="215.5" rx="4.3" ry="5.7"/><ellipse cx="885.4" cy="217.5" rx="4.3" ry="5.7"/><ellipse cx="906.4" cy="220.5" rx="4.3" ry="5.7"/><ellipse cx="906.4" cy="226.8" rx="4.3" ry="5.7"/><ellipse cx="892.9" cy="228.0" rx="4.3" ry="5.7"/><ellipse cx="903.4" cy="233.5" rx="4.3" ry="5.7"/><ellipse cx="873.4" cy="233.0" rx="4.3" ry="5.7"/><ellipse cx="878.4" cy="231.8" rx="4.3" ry="5.7"/><ellipse cx="877.1" cy="235.0" rx="4.3" ry="5.7"/><ellipse cx="887.9" cy="236.8" rx="4.3" ry="5.7"/><ellipse cx="929.6" cy="230.5" rx="4.3" ry="5.7"/><ellipse cx="938.4" cy="226.8" rx="4.3" ry="5.7"/><ellipse cx="954.6" cy="231.2" rx="4.3" ry="5.7"/><ellipse cx="949.6" cy="238.0" rx="4.3" ry="5.7"/><ellipse cx="967.1" cy="224.2" rx="4.3" ry="5.7"/><ellipse cx="970.9" cy="225.5" rx="4.3" ry="5.7"/><ellipse cx="991.4" cy="219.2" rx="4.3" ry="5.7"/><ellipse cx="863.4" cy="240.5" rx="4.3" ry="5.7"/><ellipse cx="868.4" cy="239.2" rx="4.3" ry="5.7"/><ellipse cx="872.9" cy="248.0" rx="4.3" ry="5.7"/><ellipse cx="884.6" cy="246.8" rx="4.3" ry="5.7"/><ellipse cx="898.4" cy="251.8" rx="4.3" ry="5.7"/><ellipse cx="899.6" cy="249.2" rx="4.3" ry="5.7"/><ellipse cx="909.6" cy="251.8" rx="4.3" ry="5.7"/><ellipse cx="917.1" cy="251.8" rx="4.3" ry="5.7"/><ellipse cx="917.9" cy="239.2" rx="4.3" ry="5.7"/><ellipse cx="925.9" cy="245.5" rx="4.3" ry="5.7"/><ellipse cx="929.6" cy="243.0" rx="4.3" ry="5.7"/><ellipse cx="930.9" cy="246.8" rx="4.3" ry="5.7"/><ellipse cx="981.4" cy="248.0" rx="4.3" ry="5.7"/><ellipse cx="858.4" cy="256.8" rx="4.3" ry="5.7"/><ellipse cx="859.6" cy="258.0" rx="4.3" ry="5.7"/><ellipse cx="858.4" cy="266.8" rx="4.3" ry="5.7"/><ellipse cx="855.9" cy="279.2" rx="4.3" ry="5.7"/><ellipse cx="858.9" cy="289.2" rx="4.3" ry="5.7"/><ellipse cx="870.9" cy="279.2" rx="4.3" ry="5.7"/><ellipse cx="872.1" cy="280.5" rx="4.3" ry="5.7"/><ellipse cx="879.6" cy="256.8" rx="4.3" ry="5.7"/><ellipse cx="877.1" cy="259.2" rx="4.3" ry="5.7"/><ellipse cx="882.1" cy="284.2" rx="4.3" ry="5.7"/><ellipse cx="878.4" cy="294.2" rx="4.3" ry="5.7"/><ellipse cx="890.1" cy="270.5" rx="4.3" ry="5.7"/><ellipse cx="909.6" cy="261.8" rx="4.3" ry="5.7"/><ellipse cx="912.1" cy="261.8" rx="4.3" ry="5.7"/><ellipse cx="919.1" cy="271.8" rx="4.3" ry="5.7"/><ellipse cx="932.1" cy="276.0" rx="4.3" ry="5.7"/><ellipse cx="947.1" cy="285.5" rx="4.3" ry="5.7"/><ellipse cx="957.9" cy="268.5" rx="4.3" ry="5.7"/><ellipse cx="958.9" cy="292.2" rx="4.3" ry="5.7"/><ellipse cx="982.9" cy="277.5" rx="4.3" ry="5.7"/><ellipse cx="864.1" cy="312.8" rx="4.3" ry="5.7"/><ellipse cx="869.6" cy="334.5" rx="4.3" ry="5.7"/><ellipse cx="858.9" cy="339.8" rx="4.3" ry="5.7"/><ellipse cx="870.9" cy="350.2" rx="4.3" ry="5.7"/><ellipse cx="868.4" cy="357.2" rx="4.3" ry="5.7"/><ellipse cx="860.9" cy="366.0" rx="4.3" ry="5.7"/><ellipse cx="875.9" cy="299.0" rx="4.3" ry="5.7"/><ellipse cx="878.4" cy="297.8" rx="4.3" ry="5.7"/><ellipse cx="895.4" cy="318.2" rx="4.3" ry="5.7"/><ellipse cx="900.4" cy="333.5" rx="4.3" ry="5.7"/><ellipse cx="898.4" cy="301.5" rx="4.3" ry="5.7"/><ellipse cx="902.9" cy="300.8" rx="4.3" ry="5.7"/><ellipse cx="914.6" cy="312.0" rx="4.3" ry="5.7"/><ellipse cx="924.1" cy="305.8" rx="4.3" ry="5.7"/><ellipse cx="919.6" cy="329.0" rx="4.3" ry="5.7"/><ellipse cx="927.1" cy="326.0" rx="4.3" ry="5.7"/><ellipse cx="934.6" cy="327.2" rx="4.3" ry="5.7"/><ellipse cx="947.1" cy="344.8" rx="4.3" ry="5.7"/><ellipse cx="893.4" cy="359.5" rx="4.3" ry="5.7"/><ellipse cx="883.9" cy="373.2" rx="4.3" ry="5.7"/><ellipse cx="896.4" cy="374.5" rx="4.3" ry="5.7"/><ellipse cx="915.9" cy="383.2" rx="4.3" ry="5.7"/><ellipse cx="918.4" cy="385.2" rx="4.3" ry="5.7"/><ellipse cx="937.1" cy="370.2" rx="4.3" ry="5.7"/><ellipse cx="958.9" cy="296.5" rx="4.3" ry="5.7"/><ellipse cx="915.9" cy="62.5" rx="4.3" ry="5.7"/><ellipse cx="928.4" cy="61.5" rx="4.3" ry="5.7"/><ellipse cx="930.9" cy="67.0" rx="4.3" ry="5.7"/><ellipse cx="930.9" cy="70.8" rx="4.3" ry="5.7"/><ellipse cx="952.1" cy="58.2" rx="4.3" ry="5.7"/><ellipse cx="958.4" cy="60.8" rx="4.3" ry="5.7"/><ellipse cx="962.9" cy="55.0" rx="4.3" ry="5.7"/><ellipse cx="968.4" cy="57.0" rx="4.3" ry="5.7"/><ellipse cx="973.4" cy="59.5" rx="4.3" ry="5.7"/><ellipse cx="978.4" cy="63.2" rx="4.3" ry="5.7"/><ellipse cx="983.4" cy="58.2" rx="4.3" ry="5.7"/><ellipse cx="988.4" cy="52.0" rx="4.3" ry="5.7"/><ellipse cx="993.4" cy="55.8" rx="4.3" ry="5.7"/><ellipse cx="997.1" cy="52.0" rx="4.3" ry="5.7"/><ellipse cx="1000.9" cy="50.8" rx="4.3" ry="5.7"/><ellipse cx="1002.1" cy="54.5" rx="4.3" ry="5.7"/><ellipse cx="994.6" cy="60.8" rx="4.3" ry="5.7"/><ellipse cx="988.4" cy="62.0" rx="4.3" ry="5.7"/><ellipse cx="999.6" cy="69.5" rx="4.3" ry="5.7"/><ellipse cx="950.9" cy="68.2" rx="4.3" ry="5.7"/><ellipse cx="963.4" cy="67.0" rx="4.3" ry="5.7"/><ellipse cx="968.4" cy="65.8" rx="4.3" ry="5.7"/><ellipse cx="973.4" cy="68.2" rx="4.3" ry="5.7"/><ellipse cx="979.6" cy="67.0" rx="4.3" ry="5.7"/><ellipse cx="985.9" cy="67.0" rx="4.3" ry="5.7"/><ellipse cx="990.9" cy="68.2" rx="4.3" ry="5.7"/><ellipse cx="872.9" cy="81.5" rx="4.3" ry="5.7"/><ellipse cx="878.4" cy="82.5" rx="4.3" ry="5.7"/><ellipse cx="905.9" cy="75.0" rx="4.3" ry="5.7"/><ellipse cx="909.6" cy="79.5" rx="4.3" ry="5.7"/><ellipse cx="919.6" cy="72.0" rx="4.3" ry="5.7"/><ellipse cx="922.1" cy="77.0" rx="4.3" ry="5.7"/><ellipse cx="919.6" cy="79.5" rx="4.3" ry="5.7"/><ellipse cx="924.6" cy="87.0" rx="4.3" ry="5.7"/><ellipse cx="930.9" cy="85.8" rx="4.3" ry="5.7"/><ellipse cx="933.4" cy="82.0" rx="4.3" ry="5.7"/><ellipse cx="935.9" cy="79.5" rx="4.3" ry="5.7"/><ellipse cx="940.9" cy="74.5" rx="4.3" ry="5.7"/><ellipse cx="942.1" cy="84.5" rx="4.3" ry="5.7"/><ellipse cx="949.6" cy="77.0" rx="4.3" ry="5.7"/><ellipse cx="953.4" cy="82.0" rx="4.3" ry="5.7"/><ellipse cx="960.9" cy="72.0" rx="4.3" ry="5.7"/><ellipse cx="964.6" cy="77.0" rx="4.3" ry="5.7"/><ellipse cx="968.4" cy="74.5" rx="4.3" ry="5.7"/><ellipse cx="972.1" cy="79.5" rx="4.3" ry="5.7"/><ellipse cx="975.9" cy="72.0" rx="4.3" ry="5.7"/><ellipse cx="979.6" cy="77.0" rx="4.3" ry="5.7"/><ellipse cx="983.4" cy="74.5" rx="4.3" ry="5.7"/><ellipse cx="988.4" cy="77.0" rx="4.3" ry="5.7"/><ellipse cx="993.4" cy="73.2" rx="4.3" ry="5.7"/><ellipse cx="997.1" cy="77.0" rx="4.3" ry="5.7"/><ellipse cx="974.6" cy="83.2" rx="4.3" ry="5.7"/><ellipse cx="980.9" cy="83.2" rx="4.3" ry="5.7"/><ellipse cx="983.4" cy="88.2" rx="4.3" ry="5.7"/><ellipse cx="989.6" cy="87.0" rx="4.3" ry="5.7"/><ellipse cx="995.9" cy="92.5" rx="4.3" ry="5.7"/><ellipse cx="974.6" cy="92.0" rx="4.3" ry="5.7"/><ellipse cx="983.4" cy="94.5" rx="4.3" ry="5.7"/><ellipse cx="957.1" cy="87.0" rx="4.3" ry="5.7"/><ellipse cx="960.9" cy="90.8" rx="4.3" ry="5.7"/><ellipse cx="948.4" cy="90.8" rx="4.3" ry="5.7"/><ellipse cx="945.9" cy="95.8" rx="4.3" ry="5.7"/><ellipse cx="940.9" cy="98.2" rx="4.3" ry="5.7"/><ellipse cx="895.9" cy="89.5" rx="4.3" ry="5.7"/><ellipse cx="898.4" cy="93.2" rx="4.3" ry="5.7"/><ellipse cx="902.1" cy="90.8" rx="4.3" ry="5.7"/><ellipse cx="907.1" cy="89.5" rx="4.3" ry="5.7"/><ellipse cx="912.1" cy="90.8" rx="4.3" ry="5.7"/><ellipse cx="913.4" cy="98.2" rx="4.3" ry="5.7"/><ellipse cx="903.4" cy="97.0" rx="4.3" ry="5.7"/><ellipse cx="860.4" cy="94.0" rx="4.3" ry="5.7"/><ellipse cx="868.4" cy="98.2" rx="4.3" ry="5.7"/><ellipse cx="870.9" cy="92.0" rx="4.3" ry="5.7"/><ellipse cx="873.4" cy="88.2" rx="4.3" ry="5.7"/><ellipse cx="882.1" cy="96.5" rx="4.3" ry="5.7"/><ellipse cx="864.6" cy="102.0" rx="4.3" ry="5.7"/><ellipse cx="862.1" cy="106.5" rx="4.3" ry="5.7"/><ellipse cx="890.9" cy="102.0" rx="4.3" ry="5.7"/><ellipse cx="893.4" cy="107.0" rx="4.3" ry="5.7"/><ellipse cx="898.4" cy="108.2" rx="4.3" ry="5.7"/><ellipse cx="904.6" cy="105.8" rx="4.3" ry="5.7"/><ellipse cx="908.4" cy="103.2" rx="4.3" ry="5.7"/><ellipse cx="913.4" cy="109.5" rx="4.3" ry="5.7"/><ellipse cx="895.9" cy="110.8" rx="4.3" ry="5.7"/><ellipse cx="898.4" cy="117.0" rx="4.3" ry="5.7"/><ellipse cx="907.1" cy="118.2" rx="4.3" ry="5.7"/><ellipse cx="877.1" cy="110.8" rx="4.3" ry="5.7"/><ellipse cx="884.6" cy="112.0" rx="4.3" ry="5.7"/><ellipse cx="885.9" cy="117.0" rx="4.3" ry="5.7"/><ellipse cx="880.9" cy="120.8" rx="4.3" ry="5.7"/><ellipse cx="875.9" cy="119.5" rx="4.3" ry="5.7"/><ellipse cx="917.1" cy="114.5" rx="4.3" ry="5.7"/><ellipse cx="920.9" cy="113.2" rx="4.3" ry="5.7"/><ellipse cx="924.6" cy="112.0" rx="4.3" ry="5.7"/><ellipse cx="922.1" cy="117.0" rx="4.3" ry="5.7"/><ellipse cx="928.4" cy="108.2" rx="4.3" ry="5.7"/><ellipse cx="930.9" cy="104.5" rx="4.3" ry="5.7"/><ellipse cx="934.6" cy="100.8" rx="4.3" ry="5.7"/><ellipse cx="940.9" cy="102.0" rx="4.3" ry="5.7"/><ellipse cx="944.6" cy="105.8" rx="4.3" ry="5.7"/><ellipse cx="949.6" cy="104.5" rx="4.3" ry="5.7"/><ellipse cx="954.6" cy="102.0" rx="4.3" ry="5.7"/><ellipse cx="957.1" cy="98.2" rx="4.3" ry="5.7"/><ellipse cx="963.4" cy="98.2" rx="4.3" ry="5.7"/><ellipse cx="968.4" cy="103.2" rx="4.3" ry="5.7"/><ellipse cx="972.1" cy="105.8" rx="4.3" ry="5.7"/><ellipse cx="970.9" cy="110.8" rx="4.3" ry="5.7"/><ellipse cx="973.4" cy="110.8" rx="4.3" ry="5.7"/><ellipse cx="985.9" cy="103.2" rx="4.3" ry="5.7"/><ellipse cx="985.4" cy="105.8" rx="4.3" ry="5.7"/><ellipse cx="959.6" cy="110.8" rx="4.3" ry="5.7"/><ellipse cx="965.9" cy="117.0" rx="4.3" ry="5.7"/><ellipse cx="943.4" cy="117.0" rx="4.3" ry="5.7"/><ellipse cx="945.9" cy="115.8" rx="4.3" ry="5.7"/><ellipse cx="953.4" cy="119.5" rx="4.3" ry="5.7"/><ellipse cx="935.9" cy="118.2" rx="4.3" ry="5.7"/><ellipse cx="925.9" cy="120.8" rx="4.3" ry="5.7"/><ellipse cx="865.9" cy="124.5" rx="4.3" ry="5.7"/><ellipse cx="859.6" cy="128.2" rx="4.3" ry="5.7"/><ellipse cx="863.4" cy="124.5" rx="4.3" ry="5.7"/><ellipse cx="865.9" cy="139.5" rx="4.3" ry="5.7"/><ellipse cx="862.1" cy="138.2" rx="4.3" ry="5.7"/><ellipse cx="857.1" cy="139.5" rx="4.3" ry="5.7"/><ellipse cx="868.4" cy="142.0" rx="4.3" ry="5.7"/><ellipse cx="873.4" cy="127.0" rx="4.3" ry="5.7"/><ellipse cx="878.4" cy="123.2" rx="4.3" ry="5.7"/><ellipse cx="882.1" cy="127.0" rx="4.3" ry="5.7"/><ellipse cx="885.9" cy="127.0" rx="4.3" ry="5.7"/><ellipse cx="889.6" cy="132.0" rx="4.3" ry="5.7"/><ellipse cx="893.4" cy="134.5" rx="4.3" ry="5.7"/><ellipse cx="889.6" cy="135.8" rx="4.3" ry="5.7"/><ellipse cx="907.1" cy="130.8" rx="4.3" ry="5.7"/><ellipse cx="914.6" cy="124.5" rx="4.3" ry="5.7"/><ellipse cx="918.4" cy="127.0" rx="4.3" ry="5.7"/><ellipse cx="920.9" cy="129.5" rx="4.3" ry="5.7"/><ellipse cx="917.1" cy="133.2" rx="4.3" ry="5.7"/><ellipse cx="924.6" cy="138.2" rx="4.3" ry="5.7"/><ellipse cx="925.9" cy="139.5" rx="4.3" ry="5.7"/><ellipse cx="933.4" cy="127.0" rx="4.3" ry="5.7"/><ellipse cx="938.4" cy="123.2" rx="4.3" ry="5.7"/><ellipse cx="940.9" cy="130.8" rx="4.3" ry="5.7"/><ellipse cx="943.4" cy="133.2" rx="4.3" ry="5.7"/><ellipse cx="948.4" cy="139.5" rx="4.3" ry="5.7"/><ellipse cx="953.4" cy="119.5" rx="4.3" ry="5.7"/><ellipse cx="954.6" cy="124.5" rx="4.3" ry="5.7"/><ellipse cx="954.6" cy="139.5" rx="4.3" ry="5.7"/><ellipse cx="958.4" cy="132.0" rx="4.3" ry="5.7"/><ellipse cx="962.1" cy="134.5" rx="4.3" ry="5.7"/><ellipse cx="960.9" cy="122.0" rx="4.3" ry="5.7"/><ellipse cx="968.4" cy="127.0" rx="4.3" ry="5.7"/><ellipse cx="969.6" cy="119.5" rx="4.3" ry="5.7"/><ellipse cx="979.6" cy="124.5" rx="4.3" ry="5.7"/><ellipse cx="982.1" cy="129.5" rx="4.3" ry="5.7"/><ellipse cx="974.6" cy="138.2" rx="4.3" ry="5.7"/><ellipse cx="968.4" cy="144.5" rx="4.3" ry="5.7"/><ellipse cx="1000.9" cy="129.5" rx="4.3" ry="5.7"/><ellipse cx="1000.9" cy="149.5" rx="4.3" ry="5.7"/><ellipse cx="862.1" cy="154.5" rx="4.3" ry="5.7"/><ellipse cx="880.4" cy="147.0" rx="4.3" ry="5.7"/><ellipse cx="875.9" cy="157.0" rx="4.3" ry="5.7"/><ellipse cx="877.1" cy="160.8" rx="4.3" ry="5.7"/><ellipse cx="885.9" cy="154.5" rx="4.3" ry="5.7"/><ellipse cx="890.9" cy="152.0" rx="4.3" ry="5.7"/><ellipse cx="894.6" cy="154.5" rx="4.3" ry="5.7"/><ellipse cx="897.1" cy="160.8" rx="4.3" ry="5.7"/><ellipse cx="885.9" cy="163.2" rx="4.3" ry="5.7"/><ellipse cx="900.9" cy="143.2" rx="4.3" ry="5.7"/><ellipse cx="909.6" cy="147.0" rx="4.3" ry="5.7"/><ellipse cx="910.9" cy="149.5" rx="4.3" ry="5.7"/><ellipse cx="917.1" cy="147.0" rx="4.3" ry="5.7"/><ellipse cx="924.6" cy="150.8" rx="4.3" ry="5.7"/><ellipse cx="922.1" cy="154.5" rx="4.3" ry="5.7"/><ellipse cx="924.6" cy="160.8" rx="4.3" ry="5.7"/><ellipse cx="932.1" cy="152.0" rx="4.3" ry="5.7"/><ellipse cx="935.9" cy="154.5" rx="4.3" ry="5.7"/><ellipse cx="940.9" cy="149.5" rx="4.3" ry="5.7"/><ellipse cx="940.9" cy="154.5" rx="4.3" ry="5.7"/><ellipse cx="938.4" cy="160.8" rx="4.3" ry="5.7"/><ellipse cx="944.6" cy="162.0" rx="4.3" ry="5.7"/><ellipse cx="952.1" cy="163.2" rx="4.3" ry="5.7"/><ellipse cx="955.9" cy="168.2" rx="4.3" ry="5.7"/><ellipse cx="913.4" cy="168.2" rx="4.3" ry="5.7"/><ellipse cx="920.9" cy="164.5" rx="4.3" ry="5.7"/><ellipse cx="930.9" cy="167.0" rx="4.3" ry="5.7"/><ellipse cx="900.9" cy="167.0" rx="4.3" ry="5.7"/><ellipse cx="868.4" cy="168.2" rx="4.3" ry="5.7"/><ellipse cx="965.9" cy="59.5" rx="4.3" ry="5.7"/><ellipse cx="970.9" cy="62.0" rx="4.3" ry="5.7"/><ellipse cx="975.9" cy="63.2" rx="4.3" ry="5.7"/><ellipse cx="980.9" cy="60.8" rx="4.3" ry="5.7"/><ellipse cx="985.9" cy="57.0" rx="4.3" ry="5.7"/><ellipse cx="990.9" cy="59.5" rx="4.3" ry="5.7"/><ellipse cx="995.9" cy="64.5" rx="4.3" ry="5.7"/><ellipse cx="993.4" cy="69.5" rx="4.3" ry="5.7"/><ellipse cx="988.4" cy="72.0" rx="4.3" ry="5.7"/><ellipse cx="983.4" cy="70.8" rx="4.3" ry="5.7"/><ellipse cx="978.4" cy="72.0" rx="4.3" ry="5.7"/><ellipse cx="973.4" cy="74.5" rx="4.3" ry="5.7"/><ellipse cx="968.4" cy="70.8" rx="4.3" ry="5.7"/><ellipse cx="965.9" cy="79.5" rx="4.3" ry="5.7"/><ellipse cx="970.9" cy="84.5" rx="4.3" ry="5.7"/><ellipse cx="977.1" cy="87.0" rx="4.3" ry="5.7"/><ellipse cx="980.9" cy="79.5" rx="4.3" ry="5.7"/><ellipse cx="985.9" cy="82.0" rx="4.3" ry="5.7"/><ellipse cx="990.9" cy="82.0" rx="4.3" ry="5.7"/><ellipse cx="993.4" cy="78.2" rx="4.3" ry="5.7"/><ellipse cx="979.6" cy="90.8" rx="4.3" ry="5.7"/><ellipse cx="962.1" cy="82.0" rx="4.3" ry="5.7"/><ellipse cx="958.4" cy="75.8" rx="4.3" ry="5.7"/><ellipse cx="954.6" cy="72.0" rx="4.3" ry="5.7"/><ellipse cx="958.4" cy="68.2" rx="4.3" ry="5.7"/></g>
</svg>
</body></html>
